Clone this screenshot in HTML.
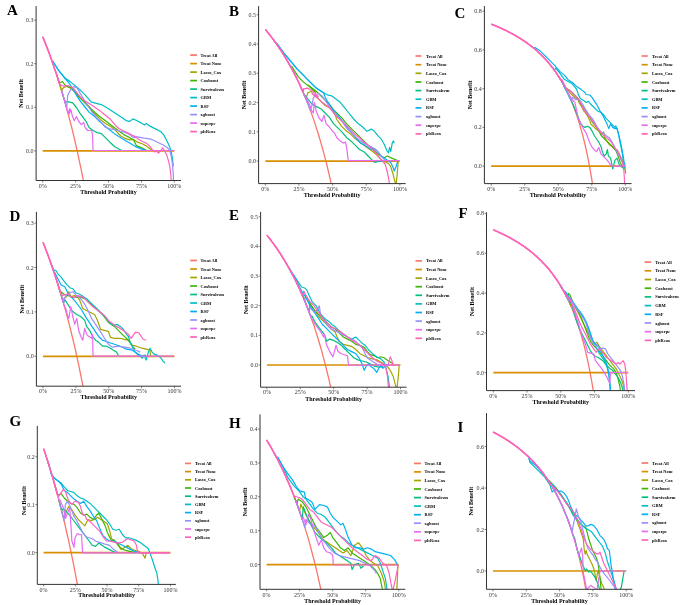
<!DOCTYPE html>
<html><head><meta charset="utf-8"><style>
html,body{margin:0;padding:0;background:#fff;}
body{width:685px;height:605px;overflow:hidden;}
svg{display:block;filter:blur(0.3px);}
text{font-family:"Liberation Serif",serif;}
.tk{font-size:6px;fill:#333;}
.at{font-size:6px;font-weight:bold;fill:#000;}
.lg{font-size:4.4px;font-weight:bold;fill:#000;}
.let{font-size:15px;font-weight:bold;fill:#000;}
</style></head><body>
<svg width="685" height="605" viewBox="0 0 685 605">
<rect width="685" height="605" fill="#fff"/>
<clipPath id="cA"><rect x="36.1" y="6.1" width="144.9" height="174.4"/></clipPath>
<path d="M42.7 36.7 L44 39.9 L45.3 43.2 L46.6 46.6 L48 50.1 L49.3 53.6 L50.6 57.2 L51.9 60.9 L53.2 64.6 L54.5 68.5 L55.9 72.4 L57.2 76.4 L58.5 80.5 L59.8 84.7 L61.1 89 L62.4 93.5 L63.8 98 L65.1 102.6 L66.4 107.3 L67.7 112.1 L69 117.1 L70.3 122.2 L71.7 127.4 L73 132.8 L74.3 138.3 L75.6 143.9 L76.9 149.7 L78.2 155.7 L79.5 161.8 L80.9 168.1 L82.2 174.6 L83.5 181.2 L84.8 188.1" stroke="#F8766D" stroke-width="1.3" fill="none" stroke-linejoin="round" clip-path="url(#cA)"/>
<path d="M42.7 150.9 L174.3 150.9" stroke="#D89000" stroke-width="1.7" fill="none" stroke-linejoin="round" clip-path="url(#cA)"/>
<path d="M57.5 77.5 L58.8 81.6 L60.1 85.8 L61.5 90.7 L63.5 87.6 L66.6 86.2 L69.6 87.6 L73.7 90.7 L77.8 94.7 L81.9 98.8 L86 102.9 L90.1 108 L93.1 112.1 L97.2 116.2 L101.3 120.3 L105.4 123.4 L110.5 126.4 L115.6 130.5 L120.7 136 L125.8 138.7 L129.9 139.9 L133 139.3 L138.1 142.4 L142.2 143.8 L145.7 145.6 L148.3 147.5 L150.6 149.3 L152.4 150.5" stroke="#A3A500" stroke-width="1.2" fill="none" stroke-linejoin="round" clip-path="url(#cA)"/>
<path d="M56.5 74.3 L57.8 78.4 L59.1 82.5 L60.4 82.5 L62.5 81.5 L64.5 84.5 L66.6 86.2 L70.7 87.6 L74.7 91.7 L78.8 96.8 L82.9 100.9 L87 105 L91.1 109 L95.2 112.7 L99.3 116.2 L103.4 119.3 L107.4 122.3 L111.5 125.4 L115.6 128.5 L119.7 131.5 L123.8 134.6 L129.9 137.7 L133.8 140.3 L136.3 145.6 L142.2 148.1 L146.9 150.5" stroke="#39B600" stroke-width="1.2" fill="none" stroke-linejoin="round" clip-path="url(#cA)"/>
<path d="M61.5 90.2 L62.8 94.6 L64.1 99.1 L65.5 101.9 L68.6 101.9 L72.7 102.9 L76.8 108 L79.9 113.1 L82.9 117.2 L86 121.3 L89 127.4 L93.1 130.5 L97.2 132.6 L101.3 133.6 L105.4 137.7 L109.9 142.2 L114.8 146.7 L121.7 150.5" stroke="#00BF7D" stroke-width="1.2" fill="none" stroke-linejoin="round" clip-path="url(#cA)"/>
<path d="M52.7 61 L58.4 70.2 L64.5 77.4 L70.7 82.1 L75.8 86.2 L80.9 90.7 L86 95.8 L91.1 101.9 L96.2 103.3 L101.3 104.6 L107.4 108 L112.6 111.5 L117.7 114.8 L122.8 118.2 L126.9 120.9 L129.9 121.3 L133 118.9 L137.1 120.7 L141.2 122.9 L144.6 125 L146.3 123.4 L150.4 126.4 L155.5 128.9 L160.6 131.5 L163.6 134.6 L166.3 139.7 L168.8 144.8 L170.8 149.9 L172.4 158.1 L173.3 166.3" stroke="#00BFC4" stroke-width="1.2" fill="none" stroke-linejoin="round" clip-path="url(#cA)"/>
<path d="M52.7 61 L58.4 70.2 L64.5 78 L68.6 82.5 L72.7 88.6 L76.8 95.8 L80.9 101.9 L85 107 L89 112.1 L94.2 116.2 L99.3 121.3 L105.4 126.4 L110.5 130.5 L115.6 134.6 L120.7 137.7 L125.8 140.7 L130.9 143.8 L136.1 146.9 L141.2 148.9 L146.3 150.5" stroke="#00B0F6" stroke-width="1.2" fill="none" stroke-linejoin="round" clip-path="url(#cA)"/>
<path d="M61.5 90.2 L62.8 94.6 L64.1 99.1 L65.4 103.8 L66.7 108.5 L67.6 95.8 L70.7 89.6 L73.7 86.6 L76.8 87.6 L79.9 92.7 L83.9 99.9 L88 106 L92.1 112.1 L96.2 117.2 L101.3 122.3 L105.4 127.4 L109.9 128.9 L113.6 129.5 L117.7 130.5 L121.7 131.5 L125.8 132.6 L129.9 134.6 L132 136.6 L134 137.7 L136.1 136.6 L140.1 137.3 L144.2 138.1 L148.3 138.7 L152.4 139.7 L156.5 141.7 L160.6 143.8 L164.7 145.8 L167.7 147.9 L169.8 150.9 L171.2 156.1 L172.2 162.2 L172.8 168.3 L173.3 174.4 L173.5 182.6" stroke="#9590FF" stroke-width="1.2" fill="none" stroke-linejoin="round" clip-path="url(#cA)"/>
<path d="M61.5 90.2 L62.8 94.6 L64.1 99.1 L65.4 103.8 L66.7 108.5 L68 113.4 L69.8 108.6 L69.4 113.8 L70.9 109.7 L72.5 116.6 L74.3 120.7 L76.4 116.6 L78.8 121.5 L81.3 124.6 L83.7 122.5 L85.2 127.6 L87.6 130.5 L91.7 130.5 L92.5 134.6 L93.1 150.5 L174.5 150.5" stroke="#E76BF3" stroke-width="1.2" fill="none" stroke-linejoin="round" clip-path="url(#cA)"/>
<path d="M42.7 36.7 L44 39.9 L45.3 43.2 L46.6 46.6 L48 50.1 L49.3 53.6 L50.6 57.2 L51.9 60.9 L53.2 64.6 L54.5 68.5 L55.9 72.4 L57.2 76.4 L58.5 80.5 L59.8 84.7 L61.5 85.5 L64.5 86.2 L67.6 85.5 L70.7 86.6 L73.7 88.6 L76.8 92.7 L80.9 97.8 L85 100.9 L90.1 103.9 L95.2 107.4 L100.3 111.1 L105.4 115.2 L110.5 119.3 L114.6 124.4 L118.7 128.5 L122.8 130.5 L126.9 132.6 L130.9 134.6 L135 136.6 L139.1 139.7 L143.2 141.7 L147.3 143.8 L150.4 146.9 L152.4 149.9 L154.4 152 L156.5 150.9 L158.5 153 L160.6 150.9 L162.6 147.9 L164.7 150.9 L166.7 155 L168.3 160.1 L169.8 166.3 L170.8 174.4 L171.4 182.6" stroke="#FF62BC" stroke-width="1.2" fill="none" stroke-linejoin="round" clip-path="url(#cA)"/>
<path d="M42.7 36.7 L44 39.9 L45.3 43.2 L46.6 46.6 L48 50.1 L49.3 53.6 L50.6 57.2 L51.9 60.9 L53.2 64.6 L54.5 68.5 L55.9 72.4 L57.2 76.4 L58.5 80.5 L59.8 84.7 L61.5 85.5" stroke="#FF62BC" stroke-width="1.5" fill="none" stroke-linejoin="round" clip-path="url(#cA)"/>
<path d="M36.1 6.1 V180.5 H181" stroke="#333333" stroke-width="1" fill="none"/>
<path d="M34.1 150.9 H36.1" stroke="#333333" stroke-width="0.6"/>
<text x="33.5" y="152.9" class="tk" text-anchor="end">0.0</text>
<path d="M34.1 107.3 H36.1" stroke="#333333" stroke-width="0.6"/>
<text x="33.5" y="109.3" class="tk" text-anchor="end">0.1</text>
<path d="M34.1 63.7 H36.1" stroke="#333333" stroke-width="0.6"/>
<text x="33.5" y="65.7" class="tk" text-anchor="end">0.2</text>
<path d="M34.1 20.1 H36.1" stroke="#333333" stroke-width="0.6"/>
<text x="33.5" y="22.1" class="tk" text-anchor="end">0.3</text>
<path d="M42.7 180.5 V182.5" stroke="#333333" stroke-width="0.6"/>
<text x="42.7" y="187.7" class="tk" text-anchor="middle">0%</text>
<path d="M75.6 180.5 V182.5" stroke="#333333" stroke-width="0.6"/>
<text x="75.6" y="187.7" class="tk" text-anchor="middle">25%</text>
<path d="M108.5 180.5 V182.5" stroke="#333333" stroke-width="0.6"/>
<text x="108.5" y="187.7" class="tk" text-anchor="middle">50%</text>
<path d="M141.4 180.5 V182.5" stroke="#333333" stroke-width="0.6"/>
<text x="141.4" y="187.7" class="tk" text-anchor="middle">75%</text>
<path d="M174.3 180.5 V182.5" stroke="#333333" stroke-width="0.6"/>
<text x="174.3" y="187.7" class="tk" text-anchor="middle">100%</text>
<text x="108.5" y="193.7" class="at" text-anchor="middle">Threshold Probability</text>
<text class="at" text-anchor="middle" transform="translate(23.2 93.3) rotate(-90)">Net Benefit</text>
<path d="M190.2 55.1 H197" stroke="#F8766D" stroke-width="1.7"/>
<text x="200.6" y="56.6" class="lg">Treat All</text>
<path d="M190.2 63.6 H197" stroke="#D89000" stroke-width="1.7"/>
<text x="200.6" y="65.1" class="lg">Treat None</text>
<path d="M190.2 72.1 H197" stroke="#A3A500" stroke-width="1.7"/>
<text x="200.6" y="73.6" class="lg">Lasso_Cox</text>
<path d="M190.2 80.6 H197" stroke="#39B600" stroke-width="1.7"/>
<text x="200.6" y="82.1" class="lg">Coxboost</text>
<path d="M190.2 89.1 H197" stroke="#00BF7D" stroke-width="1.7"/>
<text x="200.6" y="90.6" class="lg">Survivalsvm</text>
<path d="M190.2 97.6 H197" stroke="#00BFC4" stroke-width="1.7"/>
<text x="200.6" y="99.1" class="lg">GBM</text>
<path d="M190.2 106.1 H197" stroke="#00B0F6" stroke-width="1.7"/>
<text x="200.6" y="107.6" class="lg">RSF</text>
<path d="M190.2 114.6 H197" stroke="#9590FF" stroke-width="1.7"/>
<text x="200.6" y="116.1" class="lg">xgboost</text>
<path d="M190.2 123.1 H197" stroke="#E76BF3" stroke-width="1.7"/>
<text x="200.6" y="124.6" class="lg">superpc</text>
<path d="M190.2 131.6 H197" stroke="#FF62BC" stroke-width="1.7"/>
<text x="200.6" y="133.1" class="lg">plsRcox</text>
<text x="7" y="15.1" class="let">A</text>
<clipPath id="cB"><rect x="258.6" y="6.1" width="147.1" height="177.5"/></clipPath>
<path d="M265.3 29.4 L266.6 31 L268 32.7 L269.3 34.4 L270.7 36.1 L272 37.9 L273.4 39.7 L274.7 41.5 L276.1 43.4 L277.4 45.3 L278.8 47.3 L280.1 49.3 L281.5 51.3 L282.8 53.4 L284.1 55.6 L285.5 57.8 L286.8 60 L288.2 62.4 L289.5 64.7 L290.9 67.1 L292.2 69.6 L293.6 72.2 L294.9 74.8 L296.3 77.5 L297.6 80.2 L299 83 L300.3 85.9 L301.6 88.9 L303 92 L304.3 95.1 L305.7 98.4 L307 101.7 L308.4 105.1 L309.7 108.7 L311.1 112.3 L312.4 116.1 L313.8 119.9 L315.1 123.9 L316.4 128.1 L317.8 132.3 L319.1 136.7 L320.5 141.3 L321.8 146 L323.2 150.8 L324.5 155.9 L325.9 161.1 L327.2 166.5 L328.6 172.1 L329.9 178 L331.3 184.1 L332.6 190.4" stroke="#F8766D" stroke-width="1.3" fill="none" stroke-linejoin="round" clip-path="url(#cB)"/>
<path d="M265.3 161.1 L399.9 161.1" stroke="#D89000" stroke-width="1.7" fill="none" stroke-linejoin="round" clip-path="url(#cB)"/>
<path d="M302.8 91.6 L304.2 94.7 L305.5 98 L306.9 95.8 L307.9 92.6 L311.2 91.5 L314.4 95.8 L317.6 98 L320.8 101.2 L325.1 105.5 L329.4 107.6 L333.7 110.9 L336.9 119.5 L341.2 125.9 L345.5 130.2 L349.8 133.4 L354.1 137.7 L358.4 140.9 L362.7 144.2 L367 147.4 L371.3 150.6 L375.6 153.8 L379.9 158.1 L383.1 161.4 L386.4 162.4 L388.5 163.5 L390.7 166.7 L392.8 173.2 L395 181.8 L396 185 L397.1 175.3 L398.2 161.4" stroke="#A3A500" stroke-width="1.2" fill="none" stroke-linejoin="round" clip-path="url(#cB)"/>
<path d="M287.7 61.5 L289 63.9 L290.4 66.3 L291.7 66.3 L298.3 76.9 L303.6 82.1 L310.2 87.4 L315.5 92.7 L307.9 85.1 L312.2 88.3 L316.5 91.5 L320.8 95.8 L325.1 100.1 L329.4 104.4 L333.7 109.8 L338 114.1 L342.3 118.4 L346.6 123.8 L350.9 128.1 L355.2 132.4 L359.5 136.7 L363.8 140.9 L368.1 145.2 L372.4 148.5 L376.7 152.8 L381 156 L384.2 157.7 L387.4 156 L391.7 158.1 L398.2 160.7" stroke="#39B600" stroke-width="1.2" fill="none" stroke-linejoin="round" clip-path="url(#cB)"/>
<path d="M301.7 89.2 L303.1 92.2 L304.4 95.4 L305.8 95.8 L307.9 99 L312.2 104.4 L316.5 106.6 L320.8 108.7 L325.1 113 L329.4 117.3 L333.7 123.8 L338 128.1 L342.3 132.4 L346.6 137.7 L350.9 140.9 L355.2 145.2 L359.5 149.5 L363.8 151.7 L368.1 156 L372.4 160.3 L374.5 162.4 L378.8 161.4 L383.1 161.4" stroke="#00BF7D" stroke-width="1.2" fill="none" stroke-linejoin="round" clip-path="url(#cB)"/>
<path d="M273.2 39.4 L274.5 41.2 L275.8 43.1 L277.2 43.8 L283.8 53.1 L291.7 62.3 L297 68.9 L302.3 74.2 L308.9 80.8 L315.5 87.4 L323.5 92.7 L327.3 94.8 L327.3 94.8 L331.6 95.8 L335.9 99 L340.2 102.3 L344.5 107.6 L348.8 113 L354.1 119.5 L358.4 123.8 L362.7 127 L367 131.3 L371.3 129.1 L374.5 131.3 L377.8 135.6 L381 138.8 L384.2 144.2 L386.8 150.6 L388.5 152.8 L389.6 147.4 L390.7 151.7 L392.2 143.1 L393.5 140.9 L394.3 143.1" stroke="#00BFC4" stroke-width="1.2" fill="none" stroke-linejoin="round" clip-path="url(#cB)"/>
<path d="M273.2 39.4 L274.5 41.2 L275.8 43.1 L277.2 43.8 L283.8 53.1 L291.7 62.3 L297 68.9 L302.3 74.2 L308.9 80.8 L315.5 87.4 L323.5 92.7 L325.1 96.9 L327.3 101.2 L331.6 107.6 L335.9 113 L340.2 118.4 L344.5 123.8 L348.8 129.1 L353.1 134.5 L357.4 139.9 L360.6 143.1 L364.9 145.2 L368.1 147.4 L371.3 149.5 L374.5 148.5 L377.8 151.7 L381 156 L384.2 158.1 L387.4 160.3 L390.7 162.4 L392.8 166.7 L394.3 171 L396 166.7 L397.7 161.4" stroke="#00B0F6" stroke-width="1.2" fill="none" stroke-linejoin="round" clip-path="url(#cB)"/>
<path d="M303.6 93.5 L305 96.7 L306.3 100 L307.7 103.4 L309 106.8 L310.4 110.4 L312.2 104.4 L313.3 98 L315.5 94.8 L318.7 93.7 L321.9 95.8 L325.1 100.1 L329.4 106.6 L333.7 113 L338 117.3 L342.3 121.6 L346.6 128.1 L350.9 132.4 L355.2 136.7 L359.5 139.9 L363.8 143.1 L368.1 145.2 L372.4 147.4 L375.6 149.5 L378.8 152.8 L382.1 157.1 L385.3 160.7" stroke="#9590FF" stroke-width="1.2" fill="none" stroke-linejoin="round" clip-path="url(#cB)"/>
<path d="M301.7 89.2 L303.1 92.2 L304.4 95.4 L305.8 96.9 L309 103.3 L311.2 109.8 L313.3 113 L314.4 102.3 L316.1 110.9 L318.7 117.3 L321.9 121.6 L324 115.2 L326.2 123.8 L329.4 127 L332.6 131.3 L334.8 133.4 L336.9 137.7 L340.2 140.9 L343.4 143.1 L345.5 142 L346.6 147.4 L348.3 160.7 L399.3 160.7" stroke="#E76BF3" stroke-width="1.2" fill="none" stroke-linejoin="round" clip-path="url(#cB)"/>
<path d="M265.3 29.4 L266.6 31 L268 32.7 L269.3 34.4 L270.7 36.1 L272 37.9 L273.4 39.7 L274.7 41.5 L276.1 43.4 L277.4 45.3 L278.8 47.3 L280.1 49.3 L281.5 51.3 L282.8 53.4 L284.1 55.6 L285.5 57.8 L286.8 60 L288.2 62.4 L289.5 64.7 L290.9 67.1 L292.2 69.6 L293.6 72.2 L294.9 74.8 L296.3 77.5 L297.6 80.2 L299 83 L300.3 85.9 L301.6 88.9 L303 92 L303.6 88.8 L307.6 88.1 L312.9 91.4 L318.2 96.7 L312.2 93.7 L316.5 96.9 L320.8 101.2 L325.1 104.4 L329.4 107.6 L333.7 113 L338 117.3 L342.3 121.6 L346.6 125.9 L350.9 130.2 L355.2 134.5 L359.5 137.7 L363.8 142 L368.1 145.2 L372.4 149.5 L376.7 153.8 L379.9 158.1 L383.1 161.4 L385.3 164.6 L387 171 L388.5 177.5 L389.6 185" stroke="#FF62BC" stroke-width="1.2" fill="none" stroke-linejoin="round" clip-path="url(#cB)"/>
<path d="M265.3 29.4 L266.6 31 L268 32.7 L269.3 34.4 L270.7 36.1 L272 37.9 L273.4 39.7 L274.7 41.5 L276.1 43.4 L277.4 45.3 L278.8 47.3 L280.1 49.3 L281.5 51.3 L282.8 53.4 L284.1 55.6 L285.5 57.8 L286.8 60 L288.2 62.4 L289.5 64.7 L290.9 67.1 L292.2 69.6 L293.6 72.2 L294.9 74.8 L296.3 77.5 L297.6 80.2 L299 83 L300.3 85.9 L301.6 88.9 L303 92 L303.6 88.8" stroke="#FF62BC" stroke-width="1.5" fill="none" stroke-linejoin="round" clip-path="url(#cB)"/>
<path d="M258.6 6.1 V183.6 H405.7" stroke="#333333" stroke-width="1" fill="none"/>
<path d="M256.6 161.1 H258.6" stroke="#333333" stroke-width="0.6"/>
<text x="256" y="163.1" class="tk" text-anchor="end">0.0</text>
<path d="M256.6 131.8 H258.6" stroke="#333333" stroke-width="0.6"/>
<text x="256" y="133.8" class="tk" text-anchor="end">0.1</text>
<path d="M256.6 102.6 H258.6" stroke="#333333" stroke-width="0.6"/>
<text x="256" y="104.6" class="tk" text-anchor="end">0.2</text>
<path d="M256.6 73.3 H258.6" stroke="#333333" stroke-width="0.6"/>
<text x="256" y="75.3" class="tk" text-anchor="end">0.3</text>
<path d="M256.6 44 H258.6" stroke="#333333" stroke-width="0.6"/>
<text x="256" y="46" class="tk" text-anchor="end">0.4</text>
<path d="M256.6 14.8 H258.6" stroke="#333333" stroke-width="0.6"/>
<text x="256" y="16.8" class="tk" text-anchor="end">0.5</text>
<path d="M265.3 183.6 V185.6" stroke="#333333" stroke-width="0.6"/>
<text x="265.3" y="190.8" class="tk" text-anchor="middle">0%</text>
<path d="M298.9 183.6 V185.6" stroke="#333333" stroke-width="0.6"/>
<text x="298.9" y="190.8" class="tk" text-anchor="middle">25%</text>
<path d="M332.6 183.6 V185.6" stroke="#333333" stroke-width="0.6"/>
<text x="332.6" y="190.8" class="tk" text-anchor="middle">50%</text>
<path d="M366.2 183.6 V185.6" stroke="#333333" stroke-width="0.6"/>
<text x="366.2" y="190.8" class="tk" text-anchor="middle">75%</text>
<path d="M399.9 183.6 V185.6" stroke="#333333" stroke-width="0.6"/>
<text x="399.9" y="190.8" class="tk" text-anchor="middle">100%</text>
<text x="332.1" y="197.1" class="at" text-anchor="middle">Threshold Probability</text>
<text class="at" text-anchor="middle" transform="translate(246.1 94.8) rotate(-90)">Net Benefit</text>
<path d="M415.5 56 H421.4" stroke="#F8766D" stroke-width="1.7"/>
<text x="426" y="57.5" class="lg">Treat All</text>
<path d="M415.5 64.7 H421.4" stroke="#D89000" stroke-width="1.7"/>
<text x="426" y="66.2" class="lg">Treat None</text>
<path d="M415.5 73.3 H421.4" stroke="#A3A500" stroke-width="1.7"/>
<text x="426" y="74.8" class="lg">Lasso_Cox</text>
<path d="M415.5 82 H421.4" stroke="#39B600" stroke-width="1.7"/>
<text x="426" y="83.5" class="lg">Coxboost</text>
<path d="M415.5 90.6 H421.4" stroke="#00BF7D" stroke-width="1.7"/>
<text x="426" y="92.1" class="lg">Survivalsvm</text>
<path d="M415.5 99.2 H421.4" stroke="#00BFC4" stroke-width="1.7"/>
<text x="426" y="100.8" class="lg">GBM</text>
<path d="M415.5 107.9 H421.4" stroke="#00B0F6" stroke-width="1.7"/>
<text x="426" y="109.4" class="lg">RSF</text>
<path d="M415.5 116.6 H421.4" stroke="#9590FF" stroke-width="1.7"/>
<text x="426" y="118.1" class="lg">xgboost</text>
<path d="M415.5 125.2 H421.4" stroke="#E76BF3" stroke-width="1.7"/>
<text x="426" y="126.7" class="lg">superpc</text>
<path d="M415.5 133.9 H421.4" stroke="#FF62BC" stroke-width="1.7"/>
<text x="426" y="135.4" class="lg">plsRcox</text>
<text x="228.9" y="16.1" class="let">B</text>
<clipPath id="cC"><rect x="484.4" y="6.1" width="147.2" height="177.5"/></clipPath>
<path d="M491.2 24.1 L492.5 24.7 L493.9 25.2 L495.2 25.7 L496.6 26.3 L497.9 26.9 L499.2 27.4 L500.6 28 L501.9 28.6 L503.3 29.3 L504.6 29.9 L506 30.5 L507.3 31.2 L508.6 31.9 L510 32.6 L511.3 33.3 L512.7 34 L514 34.7 L515.3 35.5 L516.7 36.3 L518 37.1 L519.4 37.9 L520.7 38.7 L522 39.6 L523.4 40.5 L524.7 41.4 L526.1 42.3 L527.4 43.3 L528.7 44.3 L530.1 45.3 L531.4 46.3 L532.8 47.4 L534.1 48.5 L535.5 49.6 L536.8 50.8 L538.1 52 L539.5 53.3 L540.8 54.5 L542.2 55.9 L543.5 57.2 L544.8 58.6 L546.2 60.1 L547.5 61.6 L548.9 63.2 L550.2 64.8 L551.5 66.5 L552.9 68.2 L554.2 70 L555.6 71.9 L556.9 73.9 L558.2 75.9 L559.6 78 L560.9 80.2 L562.3 82.5 L563.6 84.9 L565 87.4 L566.3 90 L567.6 92.7 L569 95.6 L570.3 98.6 L571.7 101.8 L573 105.1 L574.3 108.6 L575.7 112.3 L577 116.1 L578.4 120.2 L579.7 124.6 L581 129.2 L582.4 134.1 L583.7 139.3 L585.1 144.9 L586.4 150.8 L587.8 157.2 L589.1 164 L590.4 171.4 L591.8 179.4 L593.1 188" stroke="#F8766D" stroke-width="1.3" fill="none" stroke-linejoin="round" clip-path="url(#cC)"/>
<path d="M491.2 166.2 L625.3 166.2" stroke="#D89000" stroke-width="1.7" fill="none" stroke-linejoin="round" clip-path="url(#cC)"/>
<path d="M561.9 81.9 L563.3 84.3 L564.6 86.8 L566 89.3 L566.6 88.1 L570 92.7 L572.3 95 L574.7 97.3 L576.4 98.5 L578.1 99.7 L579.3 103.1 L581.6 106.6 L583.9 111.2 L585.1 112.4 L587.4 115.8 L589.7 120.5 L590.8 123.9 L593.2 126.2 L595.5 128.6 L598.9 130.9 L601.2 134.3 L603.6 132 L604.7 137.8 L607 141.3 L609.3 144.7 L612.8 147.1 L615 149.4 L617 149.5 L620.2 156 L622.4 160.3 L624.5 166.7 L625.6 173.2 L624.5 162.4" stroke="#A3A500" stroke-width="1.2" fill="none" stroke-linejoin="round" clip-path="url(#cC)"/>
<path d="M560.2 79 L561.6 81.3 L562.9 83.6 L564.2 86.9 L566.6 88.7 L568.9 89.8 L571.2 91.6 L573.5 93.9 L575.8 96.2 L578.1 99.1 L580.4 103.1 L582.7 106.6 L585.1 110.1 L587.4 113.5 L589.7 117 L592 121.6 L595.5 126.2 L598.9 130.9 L601.2 135.5 L604.7 139 L608.2 142.4 L611.6 145.9 L615.9 150.6 L618.1 156 L620.2 162.4 L622.4 166.7 L624.5 167.8" stroke="#39B600" stroke-width="1.2" fill="none" stroke-linejoin="round" clip-path="url(#cC)"/>
<path d="M557.9 75.4 L559.3 77.5 L560.6 79.6 L561.9 80 L564.2 86.9 L566.6 91.6 L568.9 96.2 L571.2 100.8 L573.5 105.4 L575.8 111.2 L578.1 117 L580.4 122.8 L582.7 126.2 L585.1 127.4 L587.4 126.2 L589.7 127.4 L592 130.9 L594.3 135.5 L596.6 139 L598.9 142.4 L601.2 147.1 L602 150.6 L604.1 156 L606.3 153.8 L607.4 149.5 L608.4 156 L610.6 158.1 L612.7 168.9 L614.9 160.3 L617 158.1 L619.2 164.6 L621.3 166.7 L624.5 168.9" stroke="#00BF7D" stroke-width="1.2" fill="none" stroke-linejoin="round" clip-path="url(#cC)"/>
<path d="M551.6 66.6 L553 68.3 L554.3 70.2 L555.7 68.1 L559.8 73.1 L563.9 78.9 L568.1 81.4 L572.2 83.8 L576.3 88.8 L578 92.9 L578.1 93.9 L580.4 98.5 L583.9 100.8 L586.2 102.5 L588.5 101.4 L590.8 104.3 L594.3 107.7 L597.8 111.2 L601.2 112.4 L603.6 114.7 L605.9 118.2 L609.3 121.6 L612.8 125.1 L615 127.4 L615.9 125.9 L618.1 132.4 L620.2 143.1 L622.4 153.8 L623.5 162.4 L624.5 167.8" stroke="#00BFC4" stroke-width="1.2" fill="none" stroke-linejoin="round" clip-path="url(#cC)"/>
<path d="M531 46 L532.3 47 L533.7 48.1 L535 47.5 L540 50.8 L544.9 55.7 L549.9 60.7 L554.8 65.7 L559.8 71.4 L564.8 75.6 L568.1 79.7 L573 83 L576.3 86.3 L581.3 89.6 L585 92.5 L586.2 94.5 L589.7 95 L592 97.3 L594.3 100.8 L596.6 104.3 L598.4 107.7 L600.1 111.2 L602.4 114.7 L604.7 119.3 L607 123.9 L608.8 128.6 L610.5 123.9 L612.8 127.4 L615 128.6 L617 128.1 L618.1 132.4 L620.2 140.9 L622 149.5 L623.5 158.1 L624.5 164.6" stroke="#00B0F6" stroke-width="1.2" fill="none" stroke-linejoin="round" clip-path="url(#cC)"/>
<path d="M561.9 81.9 L563.3 84.3 L564.6 86.8 L566 89.3 L567.3 92 L568.6 94.9 L570 97.8 L571.3 101 L572.3 97.3 L575.8 99.7 L578.1 98.5 L580.4 100.8 L582.7 104.3 L585.1 108.9 L587.4 112.4 L589.7 115.8 L592 118.2 L594.3 121.6 L596.6 126.2 L598.9 129.7 L601.2 132 L603.6 133.2 L605.9 135.5 L609.3 137.8 L611.6 141.3 L613.8 145.2 L617 151.7 L620.2 158.1 L622.4 162.4 L624.5 166.1" stroke="#9590FF" stroke-width="1.2" fill="none" stroke-linejoin="round" clip-path="url(#cC)"/>
<path d="M557.9 75.4 L559.3 77.5 L560.6 79.6 L561.9 80 L565.4 86.9 L567.7 91.6 L570 96.2 L572.3 99.7 L574.7 102 L575.8 106.6 L577 112.4 L578.1 118.2 L579.9 121.6 L582.2 126.2 L583.9 129.7 L586.2 133.2 L587.9 137.8 L589.7 142.4 L592 147.1 L594.3 149.9 L596.6 151.7 L598.8 147.4 L600.9 153.8 L603.1 156 L605.2 158.1 L607.4 160.3 L609.5 163.5 L611.7 166.1 L625.6 166.1" stroke="#E76BF3" stroke-width="1.2" fill="none" stroke-linejoin="round" clip-path="url(#cC)"/>
<path d="M491.2 24.1 L492.5 24.7 L493.9 25.2 L495.2 25.7 L496.6 26.3 L497.9 26.9 L499.2 27.4 L500.6 28 L501.9 28.6 L503.3 29.3 L504.6 29.9 L506 30.5 L507.3 31.2 L508.6 31.9 L510 32.6 L511.3 33.3 L512.7 34 L514 34.7 L515.3 35.5 L516.7 36.3 L518 37.1 L519.4 37.9 L520.7 38.7 L522 39.6 L523.4 40.5 L524.7 41.4 L526.1 42.3 L527.4 43.3 L528.7 44.3 L530.1 45.3 L531.4 46.3 L532.8 47.4 L534.1 48.5 L535.5 49.6 L536.8 50.8 L538.1 52 L539.5 53.3 L540.8 54.5 L542.2 55.9 L543.5 57.2 L544.8 58.6 L546.2 60.1 L547.5 61.6 L548.9 63.2 L550.2 64.8 L551.5 66.5 L552.9 68.2 L554.2 70 L555.6 71.9 L556.9 73.9 L558.2 75.9 L559.6 78 L560.9 80.2 L561.9 80 L564.2 84.6 L566.6 89.2 L568.9 90.4 L571.2 91.6 L573.5 93.9 L575.8 96.2 L578.1 98.5 L580.4 103.1 L582.7 107.7 L585.1 111.2 L587.4 114.7 L590.8 118.2 L594.3 123.9 L597.8 128.6 L601.2 133.2 L604.7 136.6 L608.2 139 L611.6 142.4 L614 147.1 L618.1 151.7 L620.2 156 L622.4 162.4 L623.9 171 L624.8 185" stroke="#FF62BC" stroke-width="1.2" fill="none" stroke-linejoin="round" clip-path="url(#cC)"/>
<path d="M491.2 24.1 L492.5 24.7 L493.9 25.2 L495.2 25.7 L496.6 26.3 L497.9 26.9 L499.2 27.4 L500.6 28 L501.9 28.6 L503.3 29.3 L504.6 29.9 L506 30.5 L507.3 31.2 L508.6 31.9 L510 32.6 L511.3 33.3 L512.7 34 L514 34.7 L515.3 35.5 L516.7 36.3 L518 37.1 L519.4 37.9 L520.7 38.7 L522 39.6 L523.4 40.5 L524.7 41.4 L526.1 42.3 L527.4 43.3 L528.7 44.3 L530.1 45.3 L531.4 46.3 L532.8 47.4 L534.1 48.5 L535.5 49.6 L536.8 50.8 L538.1 52 L539.5 53.3 L540.8 54.5 L542.2 55.9 L543.5 57.2 L544.8 58.6 L546.2 60.1 L547.5 61.6 L548.9 63.2 L550.2 64.8 L551.5 66.5 L552.9 68.2 L554.2 70 L555.6 71.9 L556.9 73.9 L558.2 75.9 L559.6 78 L560.9 80.2 L561.9 80" stroke="#FF62BC" stroke-width="1.5" fill="none" stroke-linejoin="round" clip-path="url(#cC)"/>
<path d="M484.4 6.1 V183.6 H631.6" stroke="#333333" stroke-width="1" fill="none"/>
<path d="M482.4 166.2 H484.4" stroke="#333333" stroke-width="0.6"/>
<text x="481.8" y="168.2" class="tk" text-anchor="end">0.0</text>
<path d="M482.4 127.4 H484.4" stroke="#333333" stroke-width="0.6"/>
<text x="481.8" y="129.4" class="tk" text-anchor="end">0.2</text>
<path d="M482.4 88.7 H484.4" stroke="#333333" stroke-width="0.6"/>
<text x="481.8" y="90.7" class="tk" text-anchor="end">0.4</text>
<path d="M482.4 49.9 H484.4" stroke="#333333" stroke-width="0.6"/>
<text x="481.8" y="51.9" class="tk" text-anchor="end">0.6</text>
<path d="M482.4 11.2 H484.4" stroke="#333333" stroke-width="0.6"/>
<text x="481.8" y="13.2" class="tk" text-anchor="end">0.8</text>
<path d="M491.2 183.6 V185.6" stroke="#333333" stroke-width="0.6"/>
<text x="491.2" y="190.8" class="tk" text-anchor="middle">0%</text>
<path d="M524.7 183.6 V185.6" stroke="#333333" stroke-width="0.6"/>
<text x="524.7" y="190.8" class="tk" text-anchor="middle">25%</text>
<path d="M558.2 183.6 V185.6" stroke="#333333" stroke-width="0.6"/>
<text x="558.2" y="190.8" class="tk" text-anchor="middle">50%</text>
<path d="M591.8 183.6 V185.6" stroke="#333333" stroke-width="0.6"/>
<text x="591.8" y="190.8" class="tk" text-anchor="middle">75%</text>
<path d="M625.3 183.6 V185.6" stroke="#333333" stroke-width="0.6"/>
<text x="625.3" y="190.8" class="tk" text-anchor="middle">100%</text>
<text x="558" y="197.1" class="at" text-anchor="middle">Threshold Probability</text>
<text class="at" text-anchor="middle" transform="translate(472.1 94.8) rotate(-90)">Net Benefit</text>
<path d="M641.6 56 H647.7" stroke="#F8766D" stroke-width="1.7"/>
<text x="652" y="57.5" class="lg">Treat All</text>
<path d="M641.6 64.7 H647.7" stroke="#D89000" stroke-width="1.7"/>
<text x="652" y="66.2" class="lg">Treat None</text>
<path d="M641.6 73.3 H647.7" stroke="#A3A500" stroke-width="1.7"/>
<text x="652" y="74.8" class="lg">Lasso_Cox</text>
<path d="M641.6 82 H647.7" stroke="#39B600" stroke-width="1.7"/>
<text x="652" y="83.5" class="lg">Coxboost</text>
<path d="M641.6 90.6 H647.7" stroke="#00BF7D" stroke-width="1.7"/>
<text x="652" y="92.1" class="lg">Survivalsvm</text>
<path d="M641.6 99.2 H647.7" stroke="#00BFC4" stroke-width="1.7"/>
<text x="652" y="100.8" class="lg">GBM</text>
<path d="M641.6 107.9 H647.7" stroke="#00B0F6" stroke-width="1.7"/>
<text x="652" y="109.4" class="lg">RSF</text>
<path d="M641.6 116.6 H647.7" stroke="#9590FF" stroke-width="1.7"/>
<text x="652" y="118.1" class="lg">xgboost</text>
<path d="M641.6 125.2 H647.7" stroke="#E76BF3" stroke-width="1.7"/>
<text x="652" y="126.7" class="lg">superpc</text>
<path d="M641.6 133.9 H647.7" stroke="#FF62BC" stroke-width="1.7"/>
<text x="652" y="135.4" class="lg">plsRcox</text>
<text x="454.4" y="18.4" class="let">C</text>
<clipPath id="cD"><rect x="36.4" y="211.9" width="144.6" height="174.3"/></clipPath>
<path d="M43 242.2 L44.3 245.5 L45.6 248.9 L46.9 252.4 L48.3 255.9 L49.6 259.6 L50.9 263.2 L52.2 267 L53.5 270.9 L54.8 274.8 L56.1 278.8 L57.5 283 L58.8 287.2 L60.1 291.5 L61.4 295.9 L62.7 300.4 L64 305 L65.4 309.8 L66.7 314.6 L68 319.6 L69.3 324.7 L70.6 329.9 L71.9 335.2 L73.2 340.7 L74.6 346.4 L75.9 352.2 L77.2 358.1 L78.5 364.2 L79.8 370.5 L81.1 376.9 L82.5 383.6 L83.8 390.4" stroke="#F8766D" stroke-width="1.3" fill="none" stroke-linejoin="round" clip-path="url(#cD)"/>
<path d="M43 356.3 L174.5 356.3" stroke="#D89000" stroke-width="1.7" fill="none" stroke-linejoin="round" clip-path="url(#cD)"/>
<path d="M59.9 290.8 L61.2 295.2 L62.5 299.7 L63.8 298.6 L66.8 296.6 L68.8 291.7 L70.8 296.6 L74.7 295.6 L78.7 298.6 L80.7 302.6 L82.7 308.5 L86.6 310.5 L90.6 312.5 L94.6 314.5 L97.5 320.4 L100.5 329.3 L104.5 330.3 L108.4 331.3 L110.4 337.3 L114.4 338.3 L120.3 338.3 L124.3 339.3 L128.3 340.2 L132.2 345.2 L136.2 346.2 L142.1 348.2 L146.1 349.2 L150.1 350.2 L150.5 356.1" stroke="#A3A500" stroke-width="1.2" fill="none" stroke-linejoin="round" clip-path="url(#cD)"/>
<path d="M56.9 281.2 L58.2 285.4 L59.5 289.7 L60.9 291.7 L64.8 294.7 L68.8 295.6 L72.8 297.6 L78.7 296.6 L84.7 298.6 L90.6 303.6 L96.5 308.5 L102.5 314.5 L108.4 322.4 L114.4 326.4 L120.3 332.3 L124.3 336.3 L128.3 340.2 L132.2 346.2 L135.2 349.2" stroke="#39B600" stroke-width="1.2" fill="none" stroke-linejoin="round" clip-path="url(#cD)"/>
<path d="M60.9 294.1 L62.2 298.6 L63.5 303.2 L64.8 299.6 L66.8 302.6 L69.8 307.5 L72.8 311.5 L76.7 314.5 L80.7 316.5 L84.7 320.4 L86.6 326.4 L89.6 330.3 L92.6 336.3 L95.6 340.2 L98.5 342.2 L102.5 346.2 L106.5 346.2 L110.4 348.2 L113.4 350.2 L116.4 352.1 L118.4 355.1" stroke="#00BF7D" stroke-width="1.2" fill="none" stroke-linejoin="round" clip-path="url(#cD)"/>
<path d="M50 260.7 L51.3 264.4 L52.6 268.2 L53.9 269.9 L55.9 270.5 L57.9 273.8 L60.9 276.8 L63.8 280.8 L66.8 284.7 L69.8 287.7 L72.8 288.7 L75.7 292.7 L78.7 293.7 L81.7 295.6 L84.7 297.6 L87.6 299.6 L90.6 302.6 L94.6 306.5 L98.5 310.5 L102.5 314.5 L106.5 318.4 L110.4 323.4 L114.4 325.4 L117.4 324.4 L120.3 326.4 L123.3 329.3 L126.3 334.3 L128.3 336.3 L130.2 342.2 L132.2 346.2 L133.2 349.2 L135.2 352.1 L138.2 355.1 L140.2 356.1 L142.1 358.1 L144.1 355.1 L146.1 360.1 L148.1 353.1 L150.1 348.2 L152.1 352.1 L154 354.1 L157 355.1 L159 356.1 L161 358.1 L163 361.1 L164.9 363" stroke="#00BFC4" stroke-width="1.2" fill="none" stroke-linejoin="round" clip-path="url(#cD)"/>
<path d="M51 263.5 L52.3 267.2 L53.6 271.1 L54.9 272.8 L56.9 276.8 L60.9 284.7 L64.8 286.7 L68.8 294.7 L74.7 300.6 L80.7 308.5 L86.6 318.4 L90.6 324.4 L94.6 330.3 L98.5 336.3 L102.5 340.2 L108.4 342.2 L114.4 344.2 L120.3 346.2 L126.3 349.2 L132.2 350.2 L138.2 354.1 L142.1 356.1 L146.1 355.1" stroke="#00B0F6" stroke-width="1.2" fill="none" stroke-linejoin="round" clip-path="url(#cD)"/>
<path d="M60.9 294.1 L62.2 298.6 L63.5 303.2 L64.8 297.6 L66.8 294.7 L69.8 292.7 L72.8 291.7 L75.7 294.7 L79.7 297.6 L83.7 302.6 L87.6 309.5 L91.6 318.4 L95.6 324.4 L99.5 330.3 L104.5 338.3 L108.4 344.2 L112.4 347.2 L118.4 346.2 L124.3 347.2 L130.2 348.2 L136.2 350.2 L140.2 352.1" stroke="#9590FF" stroke-width="1.2" fill="none" stroke-linejoin="round" clip-path="url(#cD)"/>
<path d="M61.9 297.4 L63.2 301.9 L64.5 306.6 L65.8 308.5 L67.2 314.5 L68.8 318.4 L70.8 306.5 L72.8 316.5 L74.7 324.4 L76.7 318.4 L78.7 330.3 L80.7 336.3 L82.7 340.2 L84.7 328.4 L86.6 334.3 L88.6 336.3 L91.6 338.3 L92.6 334.3 L93 356.1 L173.9 356.1" stroke="#E76BF3" stroke-width="1.2" fill="none" stroke-linejoin="round" clip-path="url(#cD)"/>
<path d="M43 242.2 L44.3 245.5 L45.6 248.9 L46.9 252.4 L48.3 255.9 L49.6 259.6 L50.9 263.2 L52.2 267 L53.5 270.9 L54.8 274.8 L56.1 278.8 L57.5 283 L58.8 287.2 L60.1 291.5 L61.9 295.6 L64.8 294.7 L67.8 293.7 L70.8 296.6 L74.7 297.6 L77.7 295.6 L81.7 296.6 L84.7 298.6 L88.6 302.6 L92.6 306.5 L96.5 309.5 L100.5 312.5 L104.5 315.5 L108.4 320.4 L112.4 323.4 L116.4 326.4 L120.3 328.4 L124.3 331.3 L128.3 334.3 L131.2 338.3 L133.2 335.3 L135.2 332.3 L137.2 332.3 L139.2 333.3 L141.2 336.3 L143.1 339.3 L146.1 340.2" stroke="#FF62BC" stroke-width="1.2" fill="none" stroke-linejoin="round" clip-path="url(#cD)"/>
<path d="M43 242.2 L44.3 245.5 L45.6 248.9 L46.9 252.4 L48.3 255.9 L49.6 259.6 L50.9 263.2 L52.2 267 L53.5 270.9 L54.8 274.8 L56.1 278.8 L57.5 283 L58.8 287.2 L60.1 291.5 L61.9 295.6" stroke="#FF62BC" stroke-width="1.5" fill="none" stroke-linejoin="round" clip-path="url(#cD)"/>
<path d="M36.4 211.9 V386.2 H181" stroke="#333333" stroke-width="1" fill="none"/>
<path d="M34.4 356.3 H36.4" stroke="#333333" stroke-width="0.6"/>
<text x="33.8" y="358.3" class="tk" text-anchor="end">0.0</text>
<path d="M34.4 311.9 H36.4" stroke="#333333" stroke-width="0.6"/>
<text x="33.8" y="313.9" class="tk" text-anchor="end">0.1</text>
<path d="M34.4 267.5 H36.4" stroke="#333333" stroke-width="0.6"/>
<text x="33.8" y="269.5" class="tk" text-anchor="end">0.2</text>
<path d="M34.4 223.1 H36.4" stroke="#333333" stroke-width="0.6"/>
<text x="33.8" y="225.1" class="tk" text-anchor="end">0.3</text>
<path d="M43 386.2 V388.2" stroke="#333333" stroke-width="0.6"/>
<text x="43" y="393.4" class="tk" text-anchor="middle">0%</text>
<path d="M75.9 386.2 V388.2" stroke="#333333" stroke-width="0.6"/>
<text x="75.9" y="393.4" class="tk" text-anchor="middle">25%</text>
<path d="M108.8 386.2 V388.2" stroke="#333333" stroke-width="0.6"/>
<text x="108.8" y="393.4" class="tk" text-anchor="middle">50%</text>
<path d="M141.6 386.2 V388.2" stroke="#333333" stroke-width="0.6"/>
<text x="141.6" y="393.4" class="tk" text-anchor="middle">75%</text>
<path d="M174.5 386.2 V388.2" stroke="#333333" stroke-width="0.6"/>
<text x="174.5" y="393.4" class="tk" text-anchor="middle">100%</text>
<text x="108.7" y="399.2" class="at" text-anchor="middle">Threshold Probability</text>
<text class="at" text-anchor="middle" transform="translate(23.5 299.1) rotate(-90)">Net Benefit</text>
<path d="M190.2 260.5 H197" stroke="#F8766D" stroke-width="1.7"/>
<text x="200.6" y="262" class="lg">Treat All</text>
<path d="M190.2 269 H197" stroke="#D89000" stroke-width="1.7"/>
<text x="200.6" y="270.5" class="lg">Treat None</text>
<path d="M190.2 277.5 H197" stroke="#A3A500" stroke-width="1.7"/>
<text x="200.6" y="279" class="lg">Lasso_Cox</text>
<path d="M190.2 286 H197" stroke="#39B600" stroke-width="1.7"/>
<text x="200.6" y="287.5" class="lg">Coxboost</text>
<path d="M190.2 294.5 H197" stroke="#00BF7D" stroke-width="1.7"/>
<text x="200.6" y="296" class="lg">Survivalsvm</text>
<path d="M190.2 303 H197" stroke="#00BFC4" stroke-width="1.7"/>
<text x="200.6" y="304.5" class="lg">GBM</text>
<path d="M190.2 311.5 H197" stroke="#00B0F6" stroke-width="1.7"/>
<text x="200.6" y="313" class="lg">RSF</text>
<path d="M190.2 320 H197" stroke="#9590FF" stroke-width="1.7"/>
<text x="200.6" y="321.5" class="lg">xgboost</text>
<path d="M190.2 328.5 H197" stroke="#E76BF3" stroke-width="1.7"/>
<text x="200.6" y="330" class="lg">superpc</text>
<path d="M190.2 337 H197" stroke="#FF62BC" stroke-width="1.7"/>
<text x="200.6" y="338.5" class="lg">plsRcox</text>
<text x="9.6" y="221" class="let">D</text>
<clipPath id="cE"><rect x="260.6" y="211.9" width="146" height="175.3"/></clipPath>
<path d="M266.9 235.1 L268.2 236.8 L269.6 238.5 L270.9 240.3 L272.2 242.1 L273.6 243.9 L274.9 245.8 L276.3 247.7 L277.6 249.6 L278.9 251.6 L280.3 253.6 L281.6 255.7 L282.9 257.9 L284.3 260 L285.6 262.3 L286.9 264.5 L288.3 266.9 L289.6 269.3 L290.9 271.7 L292.3 274.2 L293.6 276.8 L295 279.4 L296.3 282.1 L297.6 284.9 L299 287.8 L300.3 290.7 L301.6 293.7 L303 296.8 L304.3 299.9 L305.6 303.2 L307 306.5 L308.3 310 L309.7 313.5 L311 317.2 L312.3 321 L313.7 324.9 L315 328.9 L316.3 333 L317.7 337.3 L319 341.7 L320.3 346.2 L321.7 350.9 L323 355.8 L324.3 360.8 L325.7 366.1 L327 371.5 L328.4 377.1 L329.7 382.9 L331 388.9 L332.4 395.2" stroke="#F8766D" stroke-width="1.3" fill="none" stroke-linejoin="round" clip-path="url(#cE)"/>
<path d="M266.9 365 L400.5 365" stroke="#D89000" stroke-width="1.7" fill="none" stroke-linejoin="round" clip-path="url(#cE)"/>
<path d="M303.8 298.6 L305.1 301.8 L306.4 305.1 L307.8 308.5 L309.1 312.1 L310 303.7 L314.2 309.9 L318.3 316.2 L322.5 320.3 L326.7 324.5 L330.8 328.7 L335 331.8 L337.1 337 L339.2 341.2 L343.3 344.3 L347.5 345.3 L351.7 346.4 L355.8 349.5 L360 353.7 L364.2 355.8 L368.3 357.8 L372.5 358.9 L376.7 359.9 L380.8 362 L384 364.1 L387.1 366.2 L390.2 370.3 L393.3 376.6 L395.4 384.9 L396.9 389.1 L398.5 374.5 L399.2 365.1" stroke="#A3A500" stroke-width="1.2" fill="none" stroke-linejoin="round" clip-path="url(#cE)"/>
<path d="M301.8 294.1 L303.2 297.2 L304.5 300.4 L305.8 295.3 L310 303.7 L314.2 309.9 L318.3 314.1 L322.5 318.2 L326.7 322.4 L330.8 326.6 L335 328.7 L339.2 332.8 L343.3 337 L347.5 339.1 L351.7 341.2 L355.8 344.3 L360 345.3 L364.2 347.4 L367.3 351.6 L370.4 354.7 L374.6 355.8 L377.7 357.8 L380.8 356.8 L384 357.8 L387.1 359.9 L390.2 362 L393.3 364.1" stroke="#39B600" stroke-width="1.2" fill="none" stroke-linejoin="round" clip-path="url(#cE)"/>
<path d="M303.8 298.6 L305.1 301.8 L306.4 305.1 L307.8 308.5 L309.1 312.1 L310.4 315.7 L312.1 316.2 L315.2 322.4 L318.3 326.6 L321.5 330.8 L324.6 334.9 L326.7 341.2 L329.8 339.1 L332.9 340.1 L337.1 342.2 L341.2 345.3 L345.4 349.5 L349.6 353.7 L353.8 357.8 L357.9 359.9 L362.1 361 L366.2 362 L370.4 364.1 L374.6 366.2 L378.8 367.2 L382.9 366.2" stroke="#00BF7D" stroke-width="1.2" fill="none" stroke-linejoin="round" clip-path="url(#cE)"/>
<path d="M285.2 261.5 L286.5 263.8 L287.8 266.1 L289.2 268.2 L293.3 274.5 L297.5 280.8 L301.7 287 L304.8 288 L306.9 290.1 L309 295.3 L312.1 301.6 L316.2 305.8 L319.4 312 L322.5 316.2 L325.6 319.3 L328.8 321.4 L331.9 324.5 L335 326.6 L339.2 330.8 L343.3 333.9 L347.5 337 L351.7 339.1 L355.8 337 L359 340.1 L362.1 343.2 L365.2 345.3 L368.3 349.5 L372.5 353.7 L376.7 356.8 L380.8 358.9 L384 362 L386 368.2 L388.1 376.6 L389.6 388" stroke="#00BFC4" stroke-width="1.2" fill="none" stroke-linejoin="round" clip-path="url(#cE)"/>
<path d="M289.3 268.7 L290.7 271.2 L292 273.7 L293.3 274.5 L297.5 282.8 L301.7 291.2 L305.8 297.4 L310 305.8 L314.2 312 L318.3 318.2 L322.5 324.5 L326.7 328.7 L330.8 332.8 L335 337 L339.2 341.2 L343.3 345.3 L347.5 349.5 L351.7 351.6 L355.8 353.7 L359 357.8 L362.1 364.1 L364.2 370.3 L366.2 366.2 L368.3 364.1 L370.4 366.2 L373.5 368.2 L376.7 372.4 L378.8 368.2 L380.8 366.2 L382.9 368.2 L385 366.2 L387.1 364.1" stroke="#00B0F6" stroke-width="1.2" fill="none" stroke-linejoin="round" clip-path="url(#cE)"/>
<path d="M303.8 298.6 L305.1 301.8 L306.4 305.1 L307.8 308.5 L309.1 312.1 L310 307.8 L314.2 312 L317.3 309.9 L319.4 305.8 L320.4 314.1 L323.5 320.3 L326.7 324.5 L330.8 328.7 L335 330.8 L339.2 332.8 L343.3 334.9 L347.5 337 L351.7 339.1 L355.8 341.2 L359 345.3 L362.1 347.4 L365.2 353.7 L367.3 357.8 L370.4 359.9 L373.5 362 L376.7 364.1 L380.8 365.1 L385 366.2 L389.2 365.1" stroke="#9590FF" stroke-width="1.2" fill="none" stroke-linejoin="round" clip-path="url(#cE)"/>
<path d="M303.8 298.6 L305.1 301.8 L306.4 305.1 L307.8 308.5 L309.1 312.1 L310.4 315.7 L311.8 319.4 L313.1 320.3 L315.2 324.5 L318.3 328.7 L321.5 332.8 L323.5 337 L324.6 334.9 L325.6 341.2 L326.7 345.3 L328.8 349.5 L330.8 353.7 L332.9 356.8 L335 349.5 L336 345.3 L338.1 351.6 L341.2 353.7 L344.4 354.7 L347.5 355.8 L348.5 365.1 L399.6 365.1" stroke="#E76BF3" stroke-width="1.2" fill="none" stroke-linejoin="round" clip-path="url(#cE)"/>
<path d="M266.9 235.1 L268.2 236.8 L269.6 238.5 L270.9 240.3 L272.2 242.1 L273.6 243.9 L274.9 245.8 L276.3 247.7 L277.6 249.6 L278.9 251.6 L280.3 253.6 L281.6 255.7 L282.9 257.9 L284.3 260 L285.6 262.3 L286.9 264.5 L288.3 266.9 L289.6 269.3 L290.9 271.7 L292.3 274.2 L293.6 276.8 L295 279.4 L296.3 282.1 L297.6 284.9 L299 287.8 L300.3 290.7 L301.6 293.7 L303 296.8 L303.8 291.2 L306.9 297.4 L310 301.6 L314.2 305.8 L318.3 312 L322.5 318.2 L326.7 322.4 L330.8 326.6 L335 328.7 L339.2 330.8 L343.3 333.9 L347.5 337 L351.7 340.1 L355.8 342.2 L360 345.3 L364.2 349.5 L368.3 353.7 L372.5 357.8 L376.7 361 L380.8 363 L384 364.1 L386 368.2 L387.5 376.6 L388.5 388 M388.1 365.1 L390.2 356.8 L391.7 359.9 L393.3 366.2" stroke="#FF62BC" stroke-width="1.2" fill="none" stroke-linejoin="round" clip-path="url(#cE)"/>
<path d="M266.9 235.1 L268.2 236.8 L269.6 238.5 L270.9 240.3 L272.2 242.1 L273.6 243.9 L274.9 245.8 L276.3 247.7 L277.6 249.6 L278.9 251.6 L280.3 253.6 L281.6 255.7 L282.9 257.9 L284.3 260 L285.6 262.3 L286.9 264.5 L288.3 266.9 L289.6 269.3 L290.9 271.7 L292.3 274.2 L293.6 276.8 L295 279.4 L296.3 282.1 L297.6 284.9 L299 287.8 L300.3 290.7 L301.6 293.7 L303 296.8 L303.8 291.2" stroke="#FF62BC" stroke-width="1.5" fill="none" stroke-linejoin="round" clip-path="url(#cE)"/>
<path d="M260.6 211.9 V387.2 H406.6" stroke="#333333" stroke-width="1" fill="none"/>
<path d="M258.6 365 H260.6" stroke="#333333" stroke-width="0.6"/>
<text x="258" y="367" class="tk" text-anchor="end">0.0</text>
<path d="M258.6 335.4 H260.6" stroke="#333333" stroke-width="0.6"/>
<text x="258" y="337.4" class="tk" text-anchor="end">0.1</text>
<path d="M258.6 305.7 H260.6" stroke="#333333" stroke-width="0.6"/>
<text x="258" y="307.7" class="tk" text-anchor="end">0.2</text>
<path d="M258.6 276.1 H260.6" stroke="#333333" stroke-width="0.6"/>
<text x="258" y="278.1" class="tk" text-anchor="end">0.3</text>
<path d="M258.6 246.4 H260.6" stroke="#333333" stroke-width="0.6"/>
<text x="258" y="248.4" class="tk" text-anchor="end">0.4</text>
<path d="M258.6 216.8 H260.6" stroke="#333333" stroke-width="0.6"/>
<text x="258" y="218.8" class="tk" text-anchor="end">0.5</text>
<path d="M266.9 387.2 V389.2" stroke="#333333" stroke-width="0.6"/>
<text x="266.9" y="394.4" class="tk" text-anchor="middle">0%</text>
<path d="M300.3 387.2 V389.2" stroke="#333333" stroke-width="0.6"/>
<text x="300.3" y="394.4" class="tk" text-anchor="middle">25%</text>
<path d="M333.7 387.2 V389.2" stroke="#333333" stroke-width="0.6"/>
<text x="333.7" y="394.4" class="tk" text-anchor="middle">50%</text>
<path d="M367.1 387.2 V389.2" stroke="#333333" stroke-width="0.6"/>
<text x="367.1" y="394.4" class="tk" text-anchor="middle">75%</text>
<path d="M400.5 387.2 V389.2" stroke="#333333" stroke-width="0.6"/>
<text x="400.5" y="394.4" class="tk" text-anchor="middle">100%</text>
<text x="333.6" y="400.5" class="at" text-anchor="middle">Threshold Probability</text>
<text class="at" text-anchor="middle" transform="translate(247.8 299.6) rotate(-90)">Net Benefit</text>
<path d="M415.5 260.9 H422" stroke="#F8766D" stroke-width="1.7"/>
<text x="426" y="262.4" class="lg">Treat All</text>
<path d="M415.5 269.5 H422" stroke="#D89000" stroke-width="1.7"/>
<text x="426" y="271" class="lg">Treat None</text>
<path d="M415.5 278.1 H422" stroke="#A3A500" stroke-width="1.7"/>
<text x="426" y="279.6" class="lg">Lasso_Cox</text>
<path d="M415.5 286.7 H422" stroke="#39B600" stroke-width="1.7"/>
<text x="426" y="288.2" class="lg">Coxboost</text>
<path d="M415.5 295.3 H422" stroke="#00BF7D" stroke-width="1.7"/>
<text x="426" y="296.8" class="lg">Survivalsvm</text>
<path d="M415.5 303.9 H422" stroke="#00BFC4" stroke-width="1.7"/>
<text x="426" y="305.4" class="lg">GBM</text>
<path d="M415.5 312.5 H422" stroke="#00B0F6" stroke-width="1.7"/>
<text x="426" y="314" class="lg">RSF</text>
<path d="M415.5 321.1 H422" stroke="#9590FF" stroke-width="1.7"/>
<text x="426" y="322.6" class="lg">xgboost</text>
<path d="M415.5 329.7 H422" stroke="#E76BF3" stroke-width="1.7"/>
<text x="426" y="331.2" class="lg">superpc</text>
<path d="M415.5 338.3 H422" stroke="#FF62BC" stroke-width="1.7"/>
<text x="426" y="339.8" class="lg">plsRcox</text>
<text x="228.9" y="220.1" class="let">E</text>
<clipPath id="cF"><rect x="486.5" y="212.3" width="148.5" height="178.3"/></clipPath>
<path d="M493.3 229.9 L494.7 230.4 L496 231 L497.4 231.6 L498.7 232.2 L500.1 232.8 L501.4 233.5 L502.8 234.1 L504.1 234.8 L505.4 235.4 L506.8 236.1 L508.2 236.8 L509.5 237.6 L510.9 238.3 L512.2 239.1 L513.5 239.8 L514.9 240.6 L516.2 241.4 L517.6 242.2 L519 243.1 L520.3 244 L521.6 244.9 L523 245.8 L524.4 246.7 L525.7 247.7 L527.1 248.7 L528.4 249.7 L529.8 250.7 L531.1 251.8 L532.5 252.9 L533.8 254 L535.1 255.2 L536.5 256.4 L537.9 257.6 L539.2 258.9 L540.6 260.2 L541.9 261.6 L543.2 263 L544.6 264.4 L546 265.9 L547.3 267.5 L548.7 269 L550 270.7 L551.4 272.4 L552.7 274.2 L554.1 276 L555.4 277.9 L556.8 279.9 L558.1 281.9 L559.5 284 L560.8 286.2 L562.2 288.5 L563.5 290.9 L564.9 293.4 L566.2 296.1 L567.6 298.8 L568.9 301.6 L570.2 304.6 L571.6 307.7 L573 311 L574.3 314.4 L575.7 318 L577 321.9 L578.4 325.9 L579.7 330.1 L581.1 334.6 L582.4 339.3 L583.8 344.3 L585.1 349.7 L586.5 355.4 L587.8 361.4 L589.2 367.9 L590.5 374.8 L591.9 382.3 L593.2 390.3 L594.6 399" stroke="#F8766D" stroke-width="1.3" fill="none" stroke-linejoin="round" clip-path="url(#cF)"/>
<path d="M493.3 372.7 L628.3 372.7" stroke="#D89000" stroke-width="1.7" fill="none" stroke-linejoin="round" clip-path="url(#cF)"/>
<path d="M566.7 297.1 L568.1 299.9 L569.4 302.8 L570.8 305.8 L571.8 300.1 L575.2 306.8 L578.5 313.6 L581.9 320.3 L585.3 327 L588.6 333.8 L592 340.5 L594.5 343.9 L597 342.2 L598.7 345.6 L601.2 348.9 L603.8 352.3 L606.3 355.7 L608.8 359 L611.3 362.4 L613.9 365.8 L616.4 369.1 L618.9 374.2 L621.4 379.2 L623.1 384.3 L624.8 392.7" stroke="#A3A500" stroke-width="1.2" fill="none" stroke-linejoin="round" clip-path="url(#cF)"/>
<path d="M564.4 292.5 L565.7 295.1 L567.1 297.8 L568.4 293.4 L570.1 295.1 L572.6 301.8 L575.2 306.8 L578.5 311.9 L581 316.9 L583.6 323.7 L586.1 330.4 L588.6 337.1 L591.1 342.2 L593.7 345.6 L596.2 348.1 L598.7 350.6 L601.2 354 L603.8 357.3 L606.3 360.7 L608.8 364.1 L611.3 366.6 L613.9 369.1 L616.4 373.3 L618.1 379.2 L619.8 386 L620.6 392.7" stroke="#39B600" stroke-width="1.2" fill="none" stroke-linejoin="round" clip-path="url(#cF)"/>
<path d="M561 286.6 L562.4 288.9 L563.7 291.3 L565.1 291.7 L568.4 298.4 L571.8 305.2 L574.3 313.6 L576.8 322 L579.4 328.7 L581.9 333.8 L585.3 340.5 L587.8 345.6 L590.3 350.6 L592.8 354 L595.4 356.5 L597.9 357.3 L600.4 359 L602.9 360.7 L605.5 364.1 L608 366.6 L610.5 369.1 L613 370.8 L615.6 374.2 L618.1 377.5 L620.6 382.6 L622.3 387.6 L623.6 392.7" stroke="#00BF7D" stroke-width="1.2" fill="none" stroke-linejoin="round" clip-path="url(#cF)"/>
<path d="M559.3 283.8 L560.7 286 L562 288.3 L563.4 290 L568.4 296.7 L573.5 303.5 L576.8 308.5 L580.2 311.9 L583.6 316.9 L586.9 323.7 L589.5 330.4 L592 338.8 L594.5 343.9 L597 348.9 L599.6 354 L602.1 357.3 L604.6 360.7 L607.1 367.4 L608.8 374.2 L609.7 382.6 L610.5 392.7" stroke="#00BFC4" stroke-width="1.2" fill="none" stroke-linejoin="round" clip-path="url(#cF)"/>
<path d="M561 286.6 L562.4 288.9 L563.7 291.3 L565.1 291.3 L570.1 298.4 L575.2 305.2 L578.5 310.2 L581.9 315.3 L585.3 320.3 L587.8 327 L590.3 333.8 L592.8 340.5 L595.4 343.9 L597.9 345.6 L600.4 350.6 L602.9 355.7 L605.5 360.7 L607.1 365.8 L608.8 372.5 L609.7 380.9 L610.5 392.7" stroke="#00B0F6" stroke-width="1.2" fill="none" stroke-linejoin="round" clip-path="url(#cF)"/>
<path d="M566.1 295.8 L567.4 298.5 L568.8 301.3 L570.1 298.4 L573.5 303.5 L576.8 308.5 L580.2 313.6 L583.6 318.6 L586.1 323.7 L588.6 332.1 L591.1 338.8 L593.7 343.9 L597 345.6 L600.4 348.9 L602.9 348.1 L605.5 348.9 L608 354 L610.5 357.3 L613 360.7 L615.6 364.1 L618.1 367.4 L620.6 370.8 L622.3 375.9 L624 384.3 L624.8 392.7" stroke="#9590FF" stroke-width="1.2" fill="none" stroke-linejoin="round" clip-path="url(#cF)"/>
<path d="M562.7 289.5 L564 291.9 L565.4 294.5 L566.7 295.1 L570.1 300.1 L573.5 308.5 L576.8 318.6 L579.4 327 L581.9 335.5 L585.3 343.9 L587.8 352.3 L591.1 353.1 L593.7 354 L595.4 360.7 L598.7 364.9 L602.1 369.1 L604.6 373.3 L607.1 377.5 L609.7 383.4 L610.5 372.5 L628.2 372.5" stroke="#E76BF3" stroke-width="1.2" fill="none" stroke-linejoin="round" clip-path="url(#cF)"/>
<path d="M493.3 229.9 L494.7 230.4 L496 231 L497.4 231.6 L498.7 232.2 L500.1 232.8 L501.4 233.5 L502.8 234.1 L504.1 234.8 L505.4 235.4 L506.8 236.1 L508.2 236.8 L509.5 237.6 L510.9 238.3 L512.2 239.1 L513.5 239.8 L514.9 240.6 L516.2 241.4 L517.6 242.2 L519 243.1 L520.3 244 L521.6 244.9 L523 245.8 L524.4 246.7 L525.7 247.7 L527.1 248.7 L528.4 249.7 L529.8 250.7 L531.1 251.8 L532.5 252.9 L533.8 254 L535.1 255.2 L536.5 256.4 L537.9 257.6 L539.2 258.9 L540.6 260.2 L541.9 261.6 L543.2 263 L544.6 264.4 L546 265.9 L547.3 267.5 L548.7 269 L550 270.7 L551.4 272.4 L552.7 274.2 L554.1 276 L555.4 277.9 L556.8 279.9 L558.1 281.9 L559.5 284 L560.8 286.2 L562.2 288.5 L563.5 290.9 L564.9 293.4 L566.7 296.7 L570.1 300.1 L573.5 306.8 L576.8 315.3 L580.2 323.7 L583.6 330.4 L586.9 337.1 L590.3 343.9 L593.7 348.9 L596.2 352.3 L598.7 348.9 L601.2 350.6 L603.8 354 L606.3 357.3 L608.8 359 L611.3 360.7 L613.9 362.4 L616.4 364.1 L618.1 362.4 L619.8 364.1 L621.4 362.4 L623.1 360.7 L624.8 364.1 L625.7 370.8 L626.5 380.9 L627.3 392.7" stroke="#FF62BC" stroke-width="1.2" fill="none" stroke-linejoin="round" clip-path="url(#cF)"/>
<path d="M493.3 229.9 L494.7 230.4 L496 231 L497.4 231.6 L498.7 232.2 L500.1 232.8 L501.4 233.5 L502.8 234.1 L504.1 234.8 L505.4 235.4 L506.8 236.1 L508.2 236.8 L509.5 237.6 L510.9 238.3 L512.2 239.1 L513.5 239.8 L514.9 240.6 L516.2 241.4 L517.6 242.2 L519 243.1 L520.3 244 L521.6 244.9 L523 245.8 L524.4 246.7 L525.7 247.7 L527.1 248.7 L528.4 249.7 L529.8 250.7 L531.1 251.8 L532.5 252.9 L533.8 254 L535.1 255.2 L536.5 256.4 L537.9 257.6 L539.2 258.9 L540.6 260.2 L541.9 261.6 L543.2 263 L544.6 264.4 L546 265.9 L547.3 267.5 L548.7 269 L550 270.7 L551.4 272.4 L552.7 274.2 L554.1 276 L555.4 277.9 L556.8 279.9 L558.1 281.9 L559.5 284 L560.8 286.2 L562.2 288.5 L563.5 290.9 L564.9 293.4 L566.7 296.7" stroke="#FF62BC" stroke-width="1.5" fill="none" stroke-linejoin="round" clip-path="url(#cF)"/>
<path d="M486.5 212.3 V390.6 H635" stroke="#333333" stroke-width="1" fill="none"/>
<path d="M484.5 372.7 H486.5" stroke="#333333" stroke-width="0.6"/>
<text x="483.9" y="374.7" class="tk" text-anchor="end">0.0</text>
<path d="M484.5 332.9 H486.5" stroke="#333333" stroke-width="0.6"/>
<text x="483.9" y="334.9" class="tk" text-anchor="end">0.2</text>
<path d="M484.5 293 H486.5" stroke="#333333" stroke-width="0.6"/>
<text x="483.9" y="295" class="tk" text-anchor="end">0.4</text>
<path d="M484.5 253.2 H486.5" stroke="#333333" stroke-width="0.6"/>
<text x="483.9" y="255.2" class="tk" text-anchor="end">0.6</text>
<path d="M484.5 213.3 H486.5" stroke="#333333" stroke-width="0.6"/>
<text x="483.9" y="215.3" class="tk" text-anchor="end">0.8</text>
<path d="M493.3 390.6 V392.6" stroke="#333333" stroke-width="0.6"/>
<text x="493.3" y="397.8" class="tk" text-anchor="middle">0%</text>
<path d="M527 390.6 V392.6" stroke="#333333" stroke-width="0.6"/>
<text x="527" y="397.8" class="tk" text-anchor="middle">25%</text>
<path d="M560.8 390.6 V392.6" stroke="#333333" stroke-width="0.6"/>
<text x="560.8" y="397.8" class="tk" text-anchor="middle">50%</text>
<path d="M594.5 390.6 V392.6" stroke="#333333" stroke-width="0.6"/>
<text x="594.5" y="397.8" class="tk" text-anchor="middle">75%</text>
<path d="M628.3 390.6 V392.6" stroke="#333333" stroke-width="0.6"/>
<text x="628.3" y="397.8" class="tk" text-anchor="middle">100%</text>
<text x="560.8" y="403.8" class="at" text-anchor="middle">Threshold Probability</text>
<text class="at" text-anchor="middle" transform="translate(473.8 301.5) rotate(-90)">Net Benefit</text>
<path d="M644.7 262.1 H651.2" stroke="#F8766D" stroke-width="1.7"/>
<text x="655.2" y="263.6" class="lg">Treat All</text>
<path d="M644.7 270.8 H651.2" stroke="#D89000" stroke-width="1.7"/>
<text x="655.2" y="272.3" class="lg">Treat None</text>
<path d="M644.7 279.5 H651.2" stroke="#A3A500" stroke-width="1.7"/>
<text x="655.2" y="281" class="lg">Lasso_Cox</text>
<path d="M644.7 288.2 H651.2" stroke="#39B600" stroke-width="1.7"/>
<text x="655.2" y="289.7" class="lg">Coxboost</text>
<path d="M644.7 296.9 H651.2" stroke="#00BF7D" stroke-width="1.7"/>
<text x="655.2" y="298.4" class="lg">Survivalsvm</text>
<path d="M644.7 305.6 H651.2" stroke="#00BFC4" stroke-width="1.7"/>
<text x="655.2" y="307.1" class="lg">GBM</text>
<path d="M644.7 314.3 H651.2" stroke="#00B0F6" stroke-width="1.7"/>
<text x="655.2" y="315.8" class="lg">RSF</text>
<path d="M644.7 323 H651.2" stroke="#9590FF" stroke-width="1.7"/>
<text x="655.2" y="324.5" class="lg">xgboost</text>
<path d="M644.7 331.7 H651.2" stroke="#E76BF3" stroke-width="1.7"/>
<text x="655.2" y="333.2" class="lg">superpc</text>
<path d="M644.7 340.4 H651.2" stroke="#FF62BC" stroke-width="1.7"/>
<text x="655.2" y="341.9" class="lg">plsRcox</text>
<text x="458.5" y="217.5" class="let">F</text>
<clipPath id="cG"><rect x="37.3" y="425.9" width="138.6" height="158.5"/></clipPath>
<path d="M43.6 448.7 L44.9 452.4 L46.1 456.3 L47.4 460.3 L48.7 464.3 L49.9 468.4 L51.2 472.6 L52.5 476.9 L53.8 481.3 L55 485.8 L56.3 490.3 L57.6 495 L58.8 499.8 L60.1 504.7 L61.4 509.7 L62.6 514.8 L63.9 520.1 L65.2 525.5 L66.4 531 L67.7 536.6 L69 542.4 L70.2 548.4 L71.5 554.4 L72.8 560.7 L74.1 567.1 L75.3 573.7 L76.6 580.4 L77.9 587.4" stroke="#F8766D" stroke-width="1.3" fill="none" stroke-linejoin="round" clip-path="url(#cG)"/>
<path d="M43.6 552.6 L170.5 552.6" stroke="#D89000" stroke-width="1.7" fill="none" stroke-linejoin="round" clip-path="url(#cG)"/>
<path d="M59 500.4 L60.2 505.3 L61.5 510.3 L62.8 515.4 L64.3 517.3 L66.5 510.9 L68.6 506.6 L71.9 509.8 L75.1 515.2 L78.3 519.5 L81.5 522.7 L84.8 525.9 L88 519.5 L91.2 520.6 L94.4 519.5 L97.7 517.3 L100.9 519.5 L104.1 521.6 L107.3 523.8 L109.5 530.2 L111.6 538.8 L114.9 541 L118.1 545.3 L121.3 549.6 L124.5 547.4 L127.8 545.3 L131 548.5 L135.3 550.7 L139.6 551.7 L142.8 553.9 L145 558.2 L146 553.9 L148.2 552.8" stroke="#A3A500" stroke-width="1.2" fill="none" stroke-linejoin="round" clip-path="url(#cG)"/>
<path d="M54.1 482.5 L55.4 487 L56.6 491.6 L57.9 494.8 L61.1 493.7 L64.3 498 L67.6 501.2 L70.8 503.4 L74 504.4 L77.2 507.7 L80.5 513 L83.7 515.2 L86.9 514.1 L90.1 517.3 L93.4 519.5 L96.6 515.2 L98.7 513 L100.9 517.3 L103 521.6 L105.2 525.9 L107.3 532.4 L109.5 536.7 L111.6 541 L113.8 539.9 L117 543.1 L120.2 547.4 L123.5 549.6 L126.7 550.7 L131 551.7 L135.3 552.8" stroke="#39B600" stroke-width="1.2" fill="none" stroke-linejoin="round" clip-path="url(#cG)"/>
<path d="M59 500.4 L60.2 505.3 L61.5 510.3 L63.3 508.7 L66.5 512 L69.7 515.2 L72.9 519.5 L76.2 523.8 L79.4 528.1 L82.6 532.4 L85.8 536.7 L89.1 541 L92.3 545.3 L95.5 546.4 L98.7 543.1 L102 545.3 L105.2 547.4 L109.5 549.6 L113.8 551.7 L115.9 552.8" stroke="#00BF7D" stroke-width="1.2" fill="none" stroke-linejoin="round" clip-path="url(#cG)"/>
<path d="M47.6 461 L48.9 465 L50.2 469.2 L51.4 474.3 L54.7 478.6 L57.9 480.8 L61.1 482.9 L64.3 487.2 L67.6 490.5 L70.8 491.5 L74 492.6 L77.2 495.8 L80.5 498 L83.7 499.1 L86.9 501.2 L90.1 503.4 L93.4 506.6 L96.6 509.8 L99.8 513 L103 516.3 L106.3 519.5 L109.5 523.8 L112.7 529.2 L115.9 530.2 L119.2 529.2 L122.4 534.5 L125.6 537.8 L128.8 537.8 L132.1 538.8 L135.3 539.9 L139.6 542.1 L143.9 545.3 L148.2 548.5 L150.3 553.9 L152.5 560.3 L154.6 566.8 L156.8 573.2 L157.9 579.7 L158.5 586.1" stroke="#00BFC4" stroke-width="1.2" fill="none" stroke-linejoin="round" clip-path="url(#cG)"/>
<path d="M47.6 461 L48.9 465 L50.2 469.2 L51.4 474.3 L54.7 478.6 L57.9 480.8 L61.1 484 L64.3 490.5 L67.6 492.6 L70.8 495.8 L74 499.1 L77.2 501.2 L80.5 503.4 L83.7 501.2 L86.9 506.6 L90.1 510.9 L93.4 516.3 L96.6 520.6 L98.7 525.9 L100.9 531.3 L103 535.6 L106.3 538.8 L109.5 541 L113.8 541 L118.1 543.1 L122.4 545.3 L126.7 547.4 L131 549.6 L135.3 551.7 L139.6 552.8" stroke="#00B0F6" stroke-width="1.2" fill="none" stroke-linejoin="round" clip-path="url(#cG)"/>
<path d="M59 500.4 L60.2 505.3 L61.5 510.3 L62.8 515.4 L64 520.7 L65.4 504.4 L67.6 501.2 L69.7 505.5 L71.9 510.9 L74 516.3 L76.2 519.5 L78.3 523.8 L80.5 528.1 L82.6 532.4 L85.8 536.7 L89.1 537.8 L92.3 538.8 L95.5 541 L98.7 542.1 L102 543.1 L105.2 544.2 L109.5 545.3 L113.8 549.6 L118.1 552.8" stroke="#9590FF" stroke-width="1.2" fill="none" stroke-linejoin="round" clip-path="url(#cG)"/>
<path d="M56.2 490.1 L57.5 494.8 L58.8 499.6 L60 500.1 L63.3 507.7 L65.4 518.4 L67.6 513 L69.7 507.7 L70.8 523.8 L71.9 541 L74 547.4 L75.1 537.8 L77.2 533.5 L79.4 534.5 L81.5 534.5 L82.6 552.8 L169.7 552.8" stroke="#E76BF3" stroke-width="1.2" fill="none" stroke-linejoin="round" clip-path="url(#cG)"/>
<path d="M43.6 448.7 L44.9 452.4 L46.1 456.3 L47.4 460.3 L48.7 464.3 L49.9 468.4 L51.2 472.6 L52.5 476.9 L53.8 481.3 L55 485.8 L56.3 490.3 L57.6 495 L59 495.8 L61.1 492.6 L63.3 489.4 L65.4 491.5 L67.6 498 L69.7 502.3 L71.9 504.4 L75.1 501.2 L78.3 502.3 L80.5 506.6 L82.6 514.1 L84.8 515.2 L86.9 519.5 L90.1 521.6 L93.4 524.9 L96.6 528.1 L99.8 531.3 L103 536.7 L106.3 541 L109.5 541 L113.8 542.1 L118.1 543.1 L122.4 542.1 L125.6 539.9 L127.8 538.8 L131 539.9 L134.2 541 L136.4 545.3 L137.4 550.7 L139.6 552.8 L169.7 552.8" stroke="#FF62BC" stroke-width="1.2" fill="none" stroke-linejoin="round" clip-path="url(#cG)"/>
<path d="M43.6 448.7 L44.9 452.4 L46.1 456.3 L47.4 460.3 L48.7 464.3 L49.9 468.4 L51.2 472.6 L52.5 476.9 L53.8 481.3 L55 485.8 L56.3 490.3 L57.6 495 L59 495.8" stroke="#FF62BC" stroke-width="1.5" fill="none" stroke-linejoin="round" clip-path="url(#cG)"/>
<path d="M37.3 425.9 V584.4 H175.9" stroke="#333333" stroke-width="1" fill="none"/>
<path d="M35.3 552.6 H37.3" stroke="#333333" stroke-width="0.6"/>
<text x="34.7" y="554.6" class="tk" text-anchor="end">0.0</text>
<path d="M35.3 504.7 H37.3" stroke="#333333" stroke-width="0.6"/>
<text x="34.7" y="506.7" class="tk" text-anchor="end">0.1</text>
<path d="M35.3 456.8 H37.3" stroke="#333333" stroke-width="0.6"/>
<text x="34.7" y="458.8" class="tk" text-anchor="end">0.2</text>
<path d="M43.6 584.4 V586.4" stroke="#333333" stroke-width="0.6"/>
<text x="43.6" y="591.6" class="tk" text-anchor="middle">0%</text>
<path d="M75.3 584.4 V586.4" stroke="#333333" stroke-width="0.6"/>
<text x="75.3" y="591.6" class="tk" text-anchor="middle">25%</text>
<path d="M107.1 584.4 V586.4" stroke="#333333" stroke-width="0.6"/>
<text x="107.1" y="591.6" class="tk" text-anchor="middle">50%</text>
<path d="M138.8 584.4 V586.4" stroke="#333333" stroke-width="0.6"/>
<text x="138.8" y="591.6" class="tk" text-anchor="middle">75%</text>
<path d="M170.5 584.4 V586.4" stroke="#333333" stroke-width="0.6"/>
<text x="170.5" y="591.6" class="tk" text-anchor="middle">100%</text>
<text x="106.6" y="597.1" class="at" text-anchor="middle">Threshold Probability</text>
<text class="at" text-anchor="middle" transform="translate(26 500.5) rotate(-90)">Net Benefit</text>
<path d="M185 463.4 H191" stroke="#F8766D" stroke-width="1.7"/>
<text x="195" y="464.9" class="lg">Treat All</text>
<path d="M185 471.6 H191" stroke="#D89000" stroke-width="1.7"/>
<text x="195" y="473.1" class="lg">Treat None</text>
<path d="M185 479.8 H191" stroke="#A3A500" stroke-width="1.7"/>
<text x="195" y="481.3" class="lg">Lasso_Cox</text>
<path d="M185 488 H191" stroke="#39B600" stroke-width="1.7"/>
<text x="195" y="489.5" class="lg">Coxboost</text>
<path d="M185 496.2 H191" stroke="#00BF7D" stroke-width="1.7"/>
<text x="195" y="497.7" class="lg">Survivalsvm</text>
<path d="M185 504.4 H191" stroke="#00BFC4" stroke-width="1.7"/>
<text x="195" y="505.9" class="lg">GBM</text>
<path d="M185 512.6 H191" stroke="#00B0F6" stroke-width="1.7"/>
<text x="195" y="514.1" class="lg">RSF</text>
<path d="M185 520.8 H191" stroke="#9590FF" stroke-width="1.7"/>
<text x="195" y="522.3" class="lg">xgboost</text>
<path d="M185 529 H191" stroke="#E76BF3" stroke-width="1.7"/>
<text x="195" y="530.5" class="lg">superpc</text>
<path d="M185 537.2 H191" stroke="#FF62BC" stroke-width="1.7"/>
<text x="195" y="538.7" class="lg">plsRcox</text>
<text x="9.6" y="426.3" class="let">G</text>
<clipPath id="cH"><rect x="260" y="414.4" width="145.3" height="174.9"/></clipPath>
<path d="M266.6 440 L267.9 442.2 L269.2 444.4 L270.6 446.6 L271.9 449 L273.2 451.3 L274.5 453.7 L275.8 456.2 L277.2 458.7 L278.5 461.2 L279.8 463.8 L281.1 466.5 L282.5 469.3 L283.8 472.1 L285.1 474.9 L286.4 477.9 L287.7 480.9 L289.1 483.9 L290.4 487.1 L291.7 490.3 L293 493.6 L294.3 497 L295.7 500.5 L297 504.1 L298.3 507.7 L299.6 511.5 L300.9 515.4 L302.3 519.3 L303.6 523.4 L304.9 527.6 L306.2 531.9 L307.6 536.4 L308.9 540.9 L310.2 545.6 L311.5 550.5 L312.8 555.5 L314.2 560.6 L315.5 565.9 L316.8 571.4 L318.1 577.1 L319.4 583 L320.8 589 L322.1 595.3" stroke="#F8766D" stroke-width="1.3" fill="none" stroke-linejoin="round" clip-path="url(#cH)"/>
<path d="M266.6 564.6 L398.7 564.6" stroke="#D89000" stroke-width="1.7" fill="none" stroke-linejoin="round" clip-path="url(#cH)"/>
<path d="M295.6 500.4 L297 504 L298.3 507.7 L299.6 511.4 L300.8 504.2 L304.6 511.9 L308.5 519.6 L312.3 526 L316.2 529.9 L320 535 L323.8 540.1 L327.7 542.7 L331.5 545.3 L335.4 547.8 L339.2 550.4 L343.1 552.9 L346.9 550.4 L350.8 555.5 L354.6 545.3 L358.5 542.7 L362.3 547.8 L366.2 555.5 L370 560.6 L373.8 563.2 L377.7 565.8 L381.5 573.5 L384.1 581.2 L385.9 591.4 M396.7 591.4 L397.4 578.6 L397.9 565" stroke="#A3A500" stroke-width="1.2" fill="none" stroke-linejoin="round" clip-path="url(#cH)"/>
<path d="M294.2 496.8 L295.6 500.2 L296.9 503.8 L298.2 499.1 L302.1 501.7 L305.9 506.8 L308.5 511.9 L311 517.1 L313.6 522.2 L316.2 527.3 L320 532.4 L323.8 537.6 L327.7 535 L330.3 532.4 L332.8 537.6 L336.7 542.7 L340.5 547.8 L344.4 550.4 L348.2 547.8 L352.1 552.9 L355.9 555.5 L359.7 558.1 L363.6 560.6 L367.4 563.2 L371.3 565.8 L375.1 569.6 L377.7 573.5 L380.3 578.6 L382.8 591.4" stroke="#39B600" stroke-width="1.2" fill="none" stroke-linejoin="round" clip-path="url(#cH)"/>
<path d="M295.6 500.4 L297 504 L298.3 507.7 L299.6 511.4 L300.9 515.3 L302.2 519.3 L303.3 506.8 L307.2 517.1 L311 524.7 L314.9 532.4 L318.7 536.3 L322.6 540.1 L326.4 542.7 L331.5 547.8 L335.4 552.9 L339.2 555.5 L343.1 558.1 L346.9 560.6 L350.8 563.2 L352.1 569.6 L354.6 564.5 L358.5 563.2 L361 568.3 L363.6 565.8" stroke="#00BF7D" stroke-width="1.2" fill="none" stroke-linejoin="round" clip-path="url(#cH)"/>
<path d="M273.7 452.2 L275.1 454.7 L276.4 457.1 L277.7 457.3 L282.3 465.5 L288.2 478.1 L294.4 486.3 L299.7 491.9 L303.1 496.8 L305.9 499.1 L309.7 504.2 L313.6 509.4 L317.4 513.2 L321.3 514.5 L325.1 517.1 L329 522.2 L332.8 527.3 L336.7 532.4 L340.5 536.3 L344.4 538.8 L348.2 542.7 L352.1 545.3 L357.2 547.8 L362.3 550.4 L367.4 552.9 L372.6 555.5 L377.7 558.1 L380.3 563.2 L382.8 570.9 L385.4 578.6 L387.4 591.4" stroke="#00BFC4" stroke-width="1.2" fill="none" stroke-linejoin="round" clip-path="url(#cH)"/>
<path d="M273.7 452.2 L275.1 454.7 L276.4 457.1 L277.7 457.3 L282.3 465.5 L286.9 472.4 L292.8 480.4 L296.2 486.3 L299.7 490.9 L304.4 492.2 L305.4 497.8 L309 500.1 L312.3 502.4 L314.9 509.4 L319.5 504.7 L324.1 505.5 L327.4 507.1 L330.3 513.2 L332.8 517.1 L336.7 520.9 L340.5 524.7 L343.1 523.5 L345.6 529.9 L348.2 537.6 L352.1 545.3 L355.9 547.8 L359.7 547.8 L363.6 549.1 L367.4 547.8 L371.3 549.1 L375.1 551.7 L380.3 552.9 L385.4 554.2 L390.5 555.5 L394.4 559.4 L397.7 565" stroke="#00B0F6" stroke-width="1.2" fill="none" stroke-linejoin="round" clip-path="url(#cH)"/>
<path d="M295.6 500.4 L297 504 L298.3 507.7 L299.6 511.4 L300.9 515.3 L302.2 519.3 L303.6 523.3 L304.9 527.5 L305.9 519.6 L309.7 523.5 L313.6 524.7 L317.4 529.9 L321.3 537.6 L325.1 542.7 L329 547.8 L334.1 552.9 L339.2 555.5 L344.4 556.8 L349.5 558.1 L354.6 559.4 L359.7 560.6 L364.9 563.2 L370 565.8 L375.1 570.9 L376.4 573.5" stroke="#9590FF" stroke-width="1.2" fill="none" stroke-linejoin="round" clip-path="url(#cH)"/>
<path d="M295.6 500.4 L297 504 L298.3 507.7 L299.6 511.4 L300.9 515.3 L302.2 519.3 L303.3 517.1 L305.9 524.7 L308.5 514.5 L311 519.6 L313.6 529.9 L316.2 537.6 L318.7 545.3 L321.3 540.1 L323.8 547.8 L326.4 551.7 L330.3 552.9 L332.8 555.5 L333.3 565 L398.2 565" stroke="#E76BF3" stroke-width="1.2" fill="none" stroke-linejoin="round" clip-path="url(#cH)"/>
<path d="M266.6 440 L267.9 442.2 L269.2 444.4 L270.6 446.6 L271.9 449 L273.2 451.3 L274.5 453.7 L275.8 456.2 L277.2 458.7 L278.5 461.2 L279.8 463.8 L281.1 466.5 L282.5 469.3 L283.8 472.1 L285.1 474.9 L286.4 477.9 L287.7 480.9 L289.1 483.9 L290.4 487.1 L291.7 490.3 L293 493.6 L294.3 497 L295.6 496.5 L299.5 497.8 L302.1 499.1 L305.9 504.2 L309.7 509.4 L313.6 511.9 L317.4 517.1 L321.3 522.2 L326.4 524.7 L331.5 527.3 L336.7 532.4 L341.8 537.6 L346.9 542.7 L352.1 547.8 L357.2 551.7 L362.3 555.5 L367.4 559.4 L371.3 560.6 L375.1 555.5 L379 558.1 L382.8 563.2 L386.7 565.8 L389.2 573.5 L391 583.7 L392.6 591.4 L395.6 578.6 L398.2 565" stroke="#FF62BC" stroke-width="1.2" fill="none" stroke-linejoin="round" clip-path="url(#cH)"/>
<path d="M266.6 440 L267.9 442.2 L269.2 444.4 L270.6 446.6 L271.9 449 L273.2 451.3 L274.5 453.7 L275.8 456.2 L277.2 458.7 L278.5 461.2 L279.8 463.8 L281.1 466.5 L282.5 469.3 L283.8 472.1 L285.1 474.9 L286.4 477.9 L287.7 480.9 L289.1 483.9 L290.4 487.1 L291.7 490.3 L293 493.6 L294.3 497 L295.6 496.5" stroke="#FF62BC" stroke-width="1.5" fill="none" stroke-linejoin="round" clip-path="url(#cH)"/>
<path d="M260 414.4 V589.3 H405.3" stroke="#333333" stroke-width="1" fill="none"/>
<path d="M258 564.6 H260" stroke="#333333" stroke-width="0.6"/>
<text x="257.4" y="566.6" class="tk" text-anchor="end">0.0</text>
<path d="M258 530.7 H260" stroke="#333333" stroke-width="0.6"/>
<text x="257.4" y="532.7" class="tk" text-anchor="end">0.1</text>
<path d="M258 496.8 H260" stroke="#333333" stroke-width="0.6"/>
<text x="257.4" y="498.8" class="tk" text-anchor="end">0.2</text>
<path d="M258 462.9 H260" stroke="#333333" stroke-width="0.6"/>
<text x="257.4" y="464.9" class="tk" text-anchor="end">0.3</text>
<path d="M258 429 H260" stroke="#333333" stroke-width="0.6"/>
<text x="257.4" y="431" class="tk" text-anchor="end">0.4</text>
<path d="M266.6 589.3 V591.3" stroke="#333333" stroke-width="0.6"/>
<text x="266.6" y="596.5" class="tk" text-anchor="middle">0%</text>
<path d="M299.6 589.3 V591.3" stroke="#333333" stroke-width="0.6"/>
<text x="299.6" y="596.5" class="tk" text-anchor="middle">25%</text>
<path d="M332.7 589.3 V591.3" stroke="#333333" stroke-width="0.6"/>
<text x="332.7" y="596.5" class="tk" text-anchor="middle">50%</text>
<path d="M365.7 589.3 V591.3" stroke="#333333" stroke-width="0.6"/>
<text x="365.7" y="596.5" class="tk" text-anchor="middle">75%</text>
<path d="M398.7 589.3 V591.3" stroke="#333333" stroke-width="0.6"/>
<text x="398.7" y="596.5" class="tk" text-anchor="middle">100%</text>
<text x="332.6" y="603" class="at" text-anchor="middle">Threshold Probability</text>
<text class="at" text-anchor="middle" transform="translate(247.3 501.8) rotate(-90)">Net Benefit</text>
<path d="M414 463.4 H421" stroke="#F8766D" stroke-width="1.7"/>
<text x="424.6" y="464.9" class="lg">Treat All</text>
<path d="M414 471.9 H421" stroke="#D89000" stroke-width="1.7"/>
<text x="424.6" y="473.4" class="lg">Treat None</text>
<path d="M414 480.5 H421" stroke="#A3A500" stroke-width="1.7"/>
<text x="424.6" y="482" class="lg">Lasso_Cox</text>
<path d="M414 489 H421" stroke="#39B600" stroke-width="1.7"/>
<text x="424.6" y="490.5" class="lg">Coxboost</text>
<path d="M414 497.6 H421" stroke="#00BF7D" stroke-width="1.7"/>
<text x="424.6" y="499.1" class="lg">Survivalsvm</text>
<path d="M414 506.1 H421" stroke="#00BFC4" stroke-width="1.7"/>
<text x="424.6" y="507.6" class="lg">GBM</text>
<path d="M414 514.7 H421" stroke="#00B0F6" stroke-width="1.7"/>
<text x="424.6" y="516.2" class="lg">RSF</text>
<path d="M414 523.2 H421" stroke="#9590FF" stroke-width="1.7"/>
<text x="424.6" y="524.8" class="lg">xgboost</text>
<path d="M414 531.8 H421" stroke="#E76BF3" stroke-width="1.7"/>
<text x="424.6" y="533.3" class="lg">superpc</text>
<path d="M414 540.4 H421" stroke="#FF62BC" stroke-width="1.7"/>
<text x="424.6" y="541.9" class="lg">plsRcox</text>
<text x="228.9" y="428" class="let">H</text>
<clipPath id="cI"><rect x="486.5" y="413.1" width="145.9" height="176.2"/></clipPath>
<path d="M493 432 L494.3 432.7 L495.7 433.4 L497 434.1 L498.3 434.8 L499.7 435.6 L501 436.3 L502.3 437.1 L503.7 437.9 L505 438.7 L506.3 439.6 L507.7 440.4 L509 441.3 L510.3 442.2 L511.6 443.1 L513 444.1 L514.3 445 L515.6 446 L517 447 L518.3 448 L519.6 449.1 L521 450.2 L522.3 451.3 L523.6 452.4 L525 453.6 L526.3 454.8 L527.6 456 L529 457.3 L530.3 458.6 L531.6 459.9 L533 461.3 L534.3 462.7 L535.6 464.2 L537 465.7 L538.3 467.2 L539.6 468.8 L541 470.5 L542.3 472.2 L543.6 473.9 L544.9 475.8 L546.3 477.6 L547.6 479.6 L548.9 481.6 L550.3 483.6 L551.6 485.8 L552.9 488 L554.3 490.3 L555.6 492.7 L556.9 495.2 L558.3 497.8 L559.6 500.5 L560.9 503.2 L562.3 506.2 L563.6 509.2 L564.9 512.4 L566.3 515.7 L567.6 519.1 L568.9 522.7 L570.3 526.5 L571.6 530.5 L572.9 534.7 L574.3 539.1 L575.6 543.7 L576.9 548.6 L578.2 553.7 L579.6 559.1 L580.9 564.9 L582.2 571 L583.6 577.5 L584.9 584.4 L586.2 591.8" stroke="#F8766D" stroke-width="1.3" fill="none" stroke-linejoin="round" clip-path="url(#cI)"/>
<path d="M493 571 L626.2 571" stroke="#D89000" stroke-width="1.7" fill="none" stroke-linejoin="round" clip-path="url(#cI)"/>
<path d="M546 477.2 L547.3 479.2 L548.7 481.1 L550 482.2 L555.6 487.8 L561.1 495.2 L564.8 500.7 L568.5 506.3 L572.2 511.9 L575.9 518 L579.6 528.1 L581.5 533.7 L583.3 539.3 L584.3 550.4 L585.2 554.1 L586.1 550.4 L587 554.1 L588.9 557.8 L590.7 561.5 L592.6 565.2 L594.4 570.7 L595.4 576.3 L596.3 580.9 L597.2 574.4 L598.1 570.7 L600 578.1 L601.9 583.7 L603.7 587.4 L605.9 593" stroke="#A3A500" stroke-width="1.2" fill="none" stroke-linejoin="round" clip-path="url(#cI)"/>
<path d="M545.8 476.9 L547.1 478.8 L548.4 480.8 L549.8 480.9 L550 481.9 L555.6 487.4 L561.1 494.8 L564.8 500.4 L568.5 505.9 L572.2 511.5 L575.9 517 L579.6 522.6 L583.3 526.3 L586.1 528.1 L587 531.9 L588.9 539.3 L590.7 544.8 L592.6 550.4 L594.4 554.1 L596.3 557.8 L598.1 563.3 L599.1 570.7 L600 578.1 L600.9 587.4 L601.9 593" stroke="#39B600" stroke-width="1.2" fill="none" stroke-linejoin="round" clip-path="url(#cI)"/>
<path d="M552.2 486.8 L553.6 489.1 L554.9 491.4 L556.2 493.9 L557.6 496.4 L558.9 499 L560.2 501.7 L561.6 504.6 L562.9 507.6 L564.2 510.7 L565.6 513.9 L566.9 517.3 L568.2 520.8 L569.6 524.5 L570.9 528.4 L572.2 532.4 L573.5 536.7 L574.4 537.2 L577.4 550.5 L580.5 558.7 L582.6 564.9 L584.6 569 L585.6 571 L586.7 569 L588.7 572.1 L589.7 571 L591.7 572.6 L594.4 576.3 L597.2 581.9 L599.1 587.4 L600 592 M618.1 593 L621.3 587.4 L624.1 571.1" stroke="#00BF7D" stroke-width="1.2" fill="none" stroke-linejoin="round" clip-path="url(#cI)"/>
<path d="M525.9 454.5 L527.3 455.7 L528.6 456.9 L529.9 462.3 L534.9 467.3 L539.8 472.2 L544.8 477.2 L549.8 484.6 L552.2 492 L554.6 489.6 L557.4 490.2 L561.1 494.8 L564.8 500.4 L567.6 504.1 L570.4 509.6 L573.1 515.2 L575.9 518.9 L579.6 522.6 L582.4 525.4 L585.2 528.1 L588.9 530 L591.7 531.9 L594.4 535.6 L597.2 539.3 L600 543 L602.8 546.7 L605.6 554.1 L607.4 561.5 L609.3 567 L611.1 572.6 L613 578.1 L614.8 583.7 L617 593" stroke="#00BFC4" stroke-width="1.2" fill="none" stroke-linejoin="round" clip-path="url(#cI)"/>
<path d="M525.9 454.5 L527.3 455.7 L528.6 456.9 L529.9 461.1 L534.9 464.8 L539.8 469.8 L544.8 476 L548.5 480.9 L553.7 485.6 L557.4 491.1 L561.1 491.1 L563.9 493 L566.7 496.7 L568.5 500.4 L570.4 505.9 L573.1 511.5 L575.9 515.2 L578.7 517 L580.6 519.8 L583.3 522.6 L586.1 526.3 L588.9 525.4 L591.7 524.4 L594.4 526.3 L597.2 530 L600 535.6 L601.9 537.4 L603.7 539.3 L605.6 543 L607.4 548.5 L609.3 550.4 L610.2 557.8 L611.1 565.2 L612 570.7 L613 576.3 L613.9 581.9 L614.8 587.4 L616.1 593" stroke="#00B0F6" stroke-width="1.2" fill="none" stroke-linejoin="round" clip-path="url(#cI)"/>
<path d="M552.2 486.8 L553.6 489.1 L554.9 491.4 L556.2 493.9 L557.6 496.4 L558.9 499 L560.2 501.7 L561.6 504.6 L562.9 507.6 L564.2 510.7 L565.6 513.9 L566.9 517.3 L568.2 520.8 L569.6 524.5 L570.9 528.4 L572.2 532.4 L572.8 527.6 L574.8 517.7 L576.3 508.8 L578.8 517.7 L580.6 520.7 L582.4 528.1 L584.3 535.6 L586.1 543 L588 548.5 L590.7 552.2 L593.5 555.9 L595.4 559.6 L597.2 561.5 L599.1 565.2 L600.9 568.9 L602.8 571.7 L604.6 574.4 L606.5 576.3 L609.3 580 L612 583.7 L614.8 587.4 L617 593" stroke="#9590FF" stroke-width="1.2" fill="none" stroke-linejoin="round" clip-path="url(#cI)"/>
<path d="M552.2 486.8 L553.6 489.1 L554.9 491.4 L556.2 493.9 L557.6 496.4 L558.9 499 L560.2 501.7 L561.6 504.6 L562.9 507.6 L564.2 510.7 L565.6 513.9 L566.9 517.3 L568.2 520.8 L569.6 524.5 L570.9 528.4 L572.2 532.4 L573.5 536.7 L574.9 541.2 L576.2 546 L577.5 550.9 L578.9 556.2 L579.5 553.6 L581.5 548 L582.6 555.6 L583.5 574 L584.6 579 L586.7 589.5 L590.8 585.4 L593.8 587.4 L597 590 L600 571 L625.9 571" stroke="#E76BF3" stroke-width="1.2" fill="none" stroke-linejoin="round" clip-path="url(#cI)"/>
<path d="M493 432 L494.3 432.7 L495.7 433.4 L497 434.1 L498.3 434.8 L499.7 435.6 L501 436.3 L502.3 437.1 L503.7 437.9 L505 438.7 L506.3 439.6 L507.7 440.4 L509 441.3 L510.3 442.2 L511.6 443.1 L513 444.1 L514.3 445 L515.6 446 L517 447 L518.3 448 L519.6 449.1 L521 450.2 L522.3 451.3 L523.6 452.4 L525 453.6 L526.3 454.8 L527.6 456 L529 457.3 L530.3 458.6 L531.6 459.9 L533 461.3 L534.3 462.7 L535.6 464.2 L537 465.7 L538.3 467.2 L539.6 468.8 L541 470.5 L542.3 472.2 L543.6 473.9 L544.9 475.8 L546.3 477.6 L547.6 479.6 L548.9 481.6 L550.3 483.6 L551.6 485.8 L552.2 485.9 L557.2 490.8 L563 498.5 L566.7 504.1 L570.4 507.8 L573.1 511.5 L575.9 517 L578.7 522.6 L581.5 530 L584.3 539.3 L587 544.8 L589.8 548.5 L592.6 550.4 L595.4 553.1 L598.1 554.1 L600 552.2 L601.9 557.8 L603.7 563.3 L605.6 567 L607.4 570.7 L609.3 574.4 L611.1 578.1 L613 581.9 L614.8 585.6 L616.7 589.3 L618.1 593" stroke="#FF62BC" stroke-width="1.2" fill="none" stroke-linejoin="round" clip-path="url(#cI)"/>
<path d="M493 432 L494.3 432.7 L495.7 433.4 L497 434.1 L498.3 434.8 L499.7 435.6 L501 436.3 L502.3 437.1 L503.7 437.9 L505 438.7 L506.3 439.6 L507.7 440.4 L509 441.3 L510.3 442.2 L511.6 443.1 L513 444.1 L514.3 445 L515.6 446 L517 447 L518.3 448 L519.6 449.1 L521 450.2 L522.3 451.3 L523.6 452.4 L525 453.6 L526.3 454.8 L527.6 456 L529 457.3 L530.3 458.6 L531.6 459.9 L533 461.3 L534.3 462.7 L535.6 464.2 L537 465.7 L538.3 467.2 L539.6 468.8 L541 470.5 L542.3 472.2 L543.6 473.9 L544.9 475.8 L546.3 477.6 L547.6 479.6 L548.9 481.6 L550.3 483.6 L551.6 485.8 L552.2 485.9" stroke="#FF62BC" stroke-width="1.5" fill="none" stroke-linejoin="round" clip-path="url(#cI)"/>
<path d="M486.5 413.1 V589.3 H632.4" stroke="#333333" stroke-width="1" fill="none"/>
<path d="M484.5 571 H486.5" stroke="#333333" stroke-width="0.6"/>
<text x="483.9" y="573" class="tk" text-anchor="end">0.0</text>
<path d="M484.5 529.5 H486.5" stroke="#333333" stroke-width="0.6"/>
<text x="483.9" y="531.5" class="tk" text-anchor="end">0.2</text>
<path d="M484.5 488 H486.5" stroke="#333333" stroke-width="0.6"/>
<text x="483.9" y="490" class="tk" text-anchor="end">0.4</text>
<path d="M484.5 446.5 H486.5" stroke="#333333" stroke-width="0.6"/>
<text x="483.9" y="448.5" class="tk" text-anchor="end">0.6</text>
<path d="M493 589.3 V591.3" stroke="#333333" stroke-width="0.6"/>
<text x="493" y="596.5" class="tk" text-anchor="middle">0%</text>
<path d="M526.3 589.3 V591.3" stroke="#333333" stroke-width="0.6"/>
<text x="526.3" y="596.5" class="tk" text-anchor="middle">25%</text>
<path d="M559.6 589.3 V591.3" stroke="#333333" stroke-width="0.6"/>
<text x="559.6" y="596.5" class="tk" text-anchor="middle">50%</text>
<path d="M592.9 589.3 V591.3" stroke="#333333" stroke-width="0.6"/>
<text x="592.9" y="596.5" class="tk" text-anchor="middle">75%</text>
<path d="M626.2 589.3 V591.3" stroke="#333333" stroke-width="0.6"/>
<text x="626.2" y="596.5" class="tk" text-anchor="middle">100%</text>
<text x="559.5" y="602.7" class="at" text-anchor="middle">Threshold Probability</text>
<text class="at" text-anchor="middle" transform="translate(473 501.2) rotate(-90)">Net Benefit</text>
<path d="M641.6 463 H648.2" stroke="#F8766D" stroke-width="1.7"/>
<text x="652.1" y="464.5" class="lg">Treat All</text>
<path d="M641.6 471.6 H648.2" stroke="#D89000" stroke-width="1.7"/>
<text x="652.1" y="473.1" class="lg">Treat None</text>
<path d="M641.6 480.1 H648.2" stroke="#A3A500" stroke-width="1.7"/>
<text x="652.1" y="481.6" class="lg">Lasso_Cox</text>
<path d="M641.6 488.6 H648.2" stroke="#39B600" stroke-width="1.7"/>
<text x="652.1" y="490.1" class="lg">Coxboost</text>
<path d="M641.6 497.2 H648.2" stroke="#00BF7D" stroke-width="1.7"/>
<text x="652.1" y="498.7" class="lg">Survivalsvm</text>
<path d="M641.6 505.8 H648.2" stroke="#00BFC4" stroke-width="1.7"/>
<text x="652.1" y="507.2" class="lg">GBM</text>
<path d="M641.6 514.3 H648.2" stroke="#00B0F6" stroke-width="1.7"/>
<text x="652.1" y="515.8" class="lg">RSF</text>
<path d="M641.6 522.9 H648.2" stroke="#9590FF" stroke-width="1.7"/>
<text x="652.1" y="524.4" class="lg">xgboost</text>
<path d="M641.6 531.4 H648.2" stroke="#E76BF3" stroke-width="1.7"/>
<text x="652.1" y="532.9" class="lg">superpc</text>
<path d="M641.6 540 H648.2" stroke="#FF62BC" stroke-width="1.7"/>
<text x="652.1" y="541.5" class="lg">plsRcox</text>
<text x="457.6" y="432" class="let">I</text>
</svg>
</body></html>
